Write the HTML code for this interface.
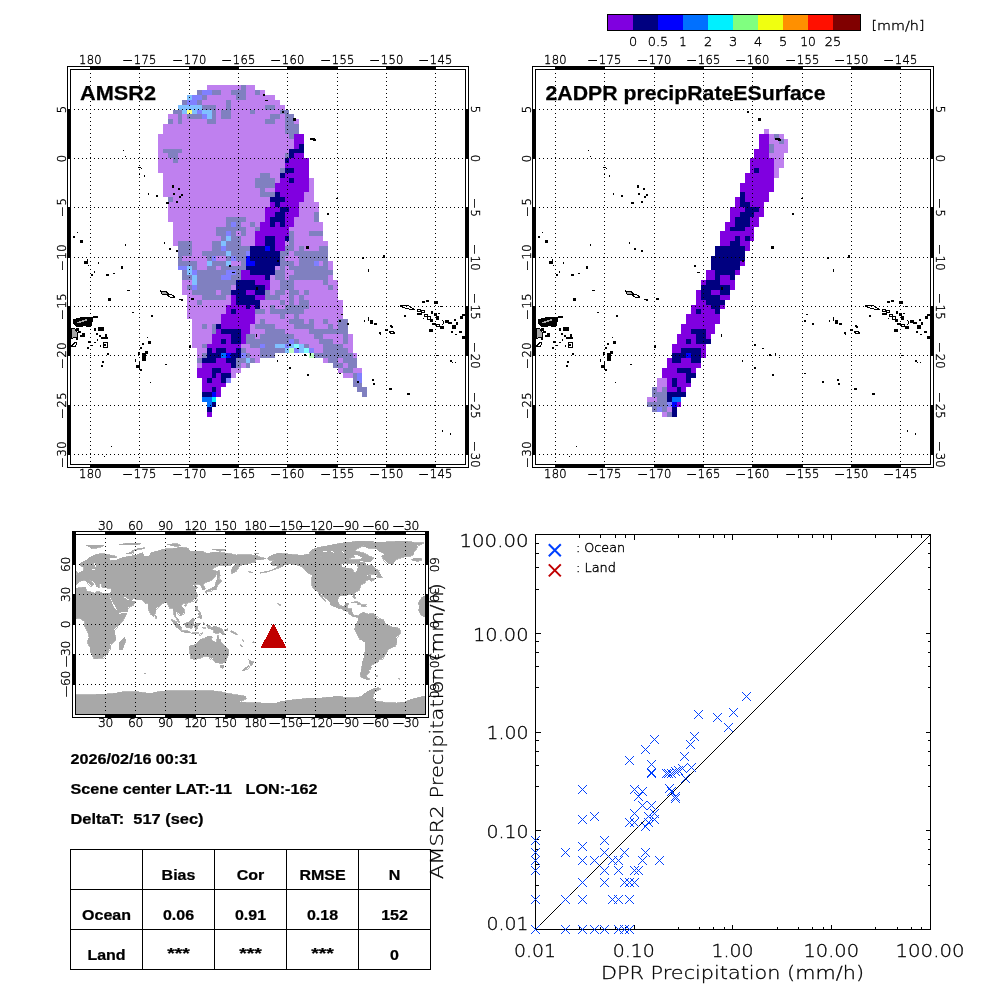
<!DOCTYPE html>
<html><head><meta charset="utf-8"><title>AMSR2 vs DPR precipitation</title>
<style>html,body{margin:0;padding:0;background:#fff}svg{display:block}text{fill:#000;white-space:pre}</style></head>
<body><svg width="1000" height="1000" viewBox="0 0 1000 1000">
<rect width="1000" height="1000" fill="#fff"/>
<g shape-rendering="crispEdges">
<rect x="607" y="14" width="254" height="17" fill="#000"/>
<rect x="608" y="15" width="25" height="15" fill="#8000e0"/>
<rect x="633" y="15" width="25" height="15" fill="#000080"/>
<rect x="658" y="15" width="25" height="15" fill="#0000ff"/>
<rect x="683" y="15" width="25" height="15" fill="#0070ff"/>
<rect x="708" y="15" width="25" height="15" fill="#00f0ff"/>
<rect x="733" y="15" width="25" height="15" fill="#80ff80"/>
<rect x="758" y="15" width="25" height="15" fill="#f0ff10"/>
<rect x="783" y="15" width="25" height="15" fill="#ff9000"/>
<rect x="808" y="15" width="25" height="15" fill="#ff1000"/>
<rect x="833" y="15" width="27" height="15" fill="#800000"/>
</g>
<text x="633" y="45.5" font-size="12.3" text-anchor="middle" font-family="DejaVu Sans Light, DejaVu Sans, Liberation Sans, sans-serif" font-weight="200" stroke="#000" stroke-width="0.35" textLength="8.2" lengthAdjust="spacingAndGlyphs">0</text>
<text x="658" y="45.5" font-size="12.3" text-anchor="middle" font-family="DejaVu Sans Light, DejaVu Sans, Liberation Sans, sans-serif" font-weight="200" stroke="#000" stroke-width="0.35" textLength="20.5" lengthAdjust="spacingAndGlyphs">0.5</text>
<text x="683" y="45.5" font-size="12.3" text-anchor="middle" font-family="DejaVu Sans Light, DejaVu Sans, Liberation Sans, sans-serif" font-weight="200" stroke="#000" stroke-width="0.35" textLength="7.4" lengthAdjust="spacingAndGlyphs">1</text>
<text x="708" y="45.5" font-size="12.3" text-anchor="middle" font-family="DejaVu Sans Light, DejaVu Sans, Liberation Sans, sans-serif" font-weight="200" stroke="#000" stroke-width="0.35" textLength="8.2" lengthAdjust="spacingAndGlyphs">2</text>
<text x="733" y="45.5" font-size="12.3" text-anchor="middle" font-family="DejaVu Sans Light, DejaVu Sans, Liberation Sans, sans-serif" font-weight="200" stroke="#000" stroke-width="0.35" textLength="8.2" lengthAdjust="spacingAndGlyphs">3</text>
<text x="758" y="45.5" font-size="12.3" text-anchor="middle" font-family="DejaVu Sans Light, DejaVu Sans, Liberation Sans, sans-serif" font-weight="200" stroke="#000" stroke-width="0.35" textLength="8.2" lengthAdjust="spacingAndGlyphs">4</text>
<text x="783" y="45.5" font-size="12.3" text-anchor="middle" font-family="DejaVu Sans Light, DejaVu Sans, Liberation Sans, sans-serif" font-weight="200" stroke="#000" stroke-width="0.35" textLength="8.2" lengthAdjust="spacingAndGlyphs">5</text>
<text x="808" y="45.5" font-size="12.3" text-anchor="middle" font-family="DejaVu Sans Light, DejaVu Sans, Liberation Sans, sans-serif" font-weight="200" stroke="#000" stroke-width="0.35" textLength="15.6" lengthAdjust="spacingAndGlyphs">10</text>
<text x="833" y="45.5" font-size="12.3" text-anchor="middle" font-family="DejaVu Sans Light, DejaVu Sans, Liberation Sans, sans-serif" font-weight="200" stroke="#000" stroke-width="0.35" textLength="16.4" lengthAdjust="spacingAndGlyphs">25</text>
<text x="871.5" y="29.5" font-size="13" text-anchor="start" font-family="DejaVu Sans Light, DejaVu Sans, Liberation Sans, sans-serif" font-weight="200" stroke="#000" stroke-width="0.35" textLength="53" lengthAdjust="spacingAndGlyphs">[mm/h]</text>
<g shape-rendering="crispEdges">
<rect x="67" y="66" width="402" height="402" fill="#000"/>
<rect x="68" y="67" width="400" height="400" fill="#fff"/>
<rect x="70" y="69" width="396" height="396" fill="#000"/>
<rect x="90" y="66" width="50" height="4" fill="#000"/>
<rect x="90" y="464" width="50" height="4" fill="#000"/>
<rect x="189" y="66" width="50" height="4" fill="#000"/>
<rect x="189" y="464" width="50" height="4" fill="#000"/>
<rect x="287" y="66" width="51" height="4" fill="#000"/>
<rect x="287" y="464" width="51" height="4" fill="#000"/>
<rect x="386" y="66" width="50" height="4" fill="#000"/>
<rect x="386" y="464" width="50" height="4" fill="#000"/>
<rect x="67" y="109" width="4" height="50" fill="#000"/>
<rect x="465" y="109" width="4" height="50" fill="#000"/>
<rect x="67" y="207" width="4" height="51" fill="#000"/>
<rect x="465" y="207" width="4" height="51" fill="#000"/>
<rect x="67" y="306" width="4" height="50" fill="#000"/>
<rect x="465" y="306" width="4" height="50" fill="#000"/>
<rect x="67" y="405" width="4" height="50" fill="#000"/>
<rect x="465" y="405" width="4" height="50" fill="#000"/>
<rect x="71" y="70" width="394" height="394" fill="#fff"/>
<rect x="207" y="85" width="34" height="5" fill="#bf80ef"/>
<rect x="241" y="85" width="5" height="5" fill="#8080c0"/>
<rect x="246" y="85" width="9" height="5" fill="#bf80ef"/>
<rect x="197" y="90" width="5" height="5" fill="#8080c0"/>
<rect x="202" y="90" width="10" height="5" fill="#8080ff"/>
<rect x="212" y="90" width="9" height="5" fill="#8080c0"/>
<rect x="221" y="90" width="10" height="5" fill="#bf80ef"/>
<rect x="231" y="90" width="15" height="5" fill="#8080c0"/>
<rect x="246" y="90" width="9" height="5" fill="#bf80ef"/>
<rect x="255" y="90" width="5" height="5" fill="#8080c0"/>
<rect x="260" y="90" width="5" height="5" fill="#bf80ef"/>
<rect x="187" y="95" width="5" height="5" fill="#80c0ff"/>
<rect x="192" y="95" width="10" height="5" fill="#8080ff"/>
<rect x="202" y="95" width="5" height="5" fill="#8080c0"/>
<rect x="207" y="95" width="29" height="5" fill="#bf80ef"/>
<rect x="236" y="95" width="10" height="5" fill="#8080c0"/>
<rect x="246" y="95" width="29" height="5" fill="#bf80ef"/>
<rect x="182" y="100" width="5" height="5" fill="#8080c0"/>
<rect x="187" y="100" width="10" height="5" fill="#8080ff"/>
<rect x="197" y="100" width="5" height="5" fill="#8080c0"/>
<rect x="202" y="100" width="24" height="5" fill="#bf80ef"/>
<rect x="226" y="100" width="5" height="5" fill="#8080c0"/>
<rect x="231" y="100" width="49" height="5" fill="#bf80ef"/>
<rect x="178" y="105" width="24" height="5" fill="#80c0ff"/>
<rect x="202" y="105" width="14" height="5" fill="#8080c0"/>
<rect x="216" y="105" width="10" height="5" fill="#bf80ef"/>
<rect x="226" y="105" width="5" height="5" fill="#8080c0"/>
<rect x="231" y="105" width="34" height="5" fill="#bf80ef"/>
<rect x="265" y="105" width="10" height="5" fill="#8080c0"/>
<rect x="275" y="105" width="10" height="5" fill="#bf80ef"/>
<rect x="173" y="110" width="9" height="4" fill="#8080c0"/>
<rect x="182" y="110" width="5" height="4" fill="#80c0ff"/>
<rect x="187" y="110" width="5" height="4" fill="#ffff80"/>
<rect x="192" y="110" width="5" height="4" fill="#80c0ff"/>
<rect x="197" y="110" width="5" height="4" fill="#8080ff"/>
<rect x="202" y="110" width="10" height="4" fill="#80c0ff"/>
<rect x="212" y="110" width="4" height="4" fill="#8080c0"/>
<rect x="216" y="110" width="5" height="4" fill="#bf80ef"/>
<rect x="221" y="110" width="10" height="4" fill="#8080c0"/>
<rect x="231" y="110" width="19" height="4" fill="#bf80ef"/>
<rect x="250" y="110" width="5" height="4" fill="#8080c0"/>
<rect x="255" y="110" width="25" height="4" fill="#bf80ef"/>
<rect x="280" y="110" width="9" height="4" fill="#8080c0"/>
<rect x="168" y="114" width="10" height="5" fill="#bf80ef"/>
<rect x="178" y="114" width="4" height="5" fill="#8080c0"/>
<rect x="182" y="114" width="5" height="5" fill="#bf80ef"/>
<rect x="187" y="114" width="15" height="5" fill="#8080c0"/>
<rect x="202" y="114" width="5" height="5" fill="#8080ff"/>
<rect x="207" y="114" width="5" height="5" fill="#80c0ff"/>
<rect x="212" y="114" width="4" height="5" fill="#8080c0"/>
<rect x="216" y="114" width="5" height="5" fill="#bf80ef"/>
<rect x="221" y="114" width="10" height="5" fill="#8080c0"/>
<rect x="231" y="114" width="39" height="5" fill="#bf80ef"/>
<rect x="270" y="114" width="10" height="5" fill="#8080c0"/>
<rect x="280" y="114" width="5" height="5" fill="#bf80ef"/>
<rect x="285" y="114" width="9" height="5" fill="#8080c0"/>
<rect x="168" y="119" width="5" height="5" fill="#8080c0"/>
<rect x="173" y="119" width="5" height="5" fill="#bf80ef"/>
<rect x="178" y="119" width="4" height="5" fill="#8080c0"/>
<rect x="182" y="119" width="25" height="5" fill="#bf80ef"/>
<rect x="207" y="119" width="9" height="5" fill="#8080c0"/>
<rect x="216" y="119" width="49" height="5" fill="#bf80ef"/>
<rect x="265" y="119" width="10" height="5" fill="#8080c0"/>
<rect x="275" y="119" width="10" height="5" fill="#bf80ef"/>
<rect x="285" y="119" width="9" height="5" fill="#8080c0"/>
<rect x="294" y="119" width="5" height="5" fill="#bf80ef"/>
<rect x="163" y="124" width="122" height="5" fill="#bf80ef"/>
<rect x="285" y="124" width="14" height="5" fill="#8080c0"/>
<rect x="163" y="129" width="122" height="5" fill="#bf80ef"/>
<rect x="285" y="129" width="14" height="5" fill="#8080c0"/>
<rect x="158" y="134" width="131" height="5" fill="#bf80ef"/>
<rect x="289" y="134" width="5" height="5" fill="#8080c0"/>
<rect x="294" y="134" width="10" height="5" fill="#8000e0"/>
<rect x="158" y="139" width="136" height="5" fill="#bf80ef"/>
<rect x="294" y="139" width="10" height="5" fill="#8000e0"/>
<rect x="158" y="144" width="136" height="5" fill="#bf80ef"/>
<rect x="294" y="144" width="5" height="5" fill="#8000e0"/>
<rect x="299" y="144" width="5" height="5" fill="#000080"/>
<rect x="158" y="149" width="5" height="4" fill="#bf80ef"/>
<rect x="163" y="149" width="19" height="4" fill="#8080c0"/>
<rect x="182" y="149" width="107" height="4" fill="#bf80ef"/>
<rect x="289" y="149" width="15" height="4" fill="#000080"/>
<rect x="158" y="153" width="10" height="5" fill="#bf80ef"/>
<rect x="168" y="153" width="10" height="5" fill="#8080c0"/>
<rect x="178" y="153" width="107" height="5" fill="#bf80ef"/>
<rect x="285" y="153" width="4" height="5" fill="#8080c0"/>
<rect x="289" y="153" width="5" height="5" fill="#000080"/>
<rect x="294" y="153" width="10" height="5" fill="#8000e0"/>
<rect x="158" y="158" width="15" height="5" fill="#bf80ef"/>
<rect x="173" y="158" width="5" height="5" fill="#8080c0"/>
<rect x="178" y="158" width="107" height="5" fill="#bf80ef"/>
<rect x="285" y="158" width="4" height="5" fill="#000080"/>
<rect x="289" y="158" width="20" height="5" fill="#8000e0"/>
<rect x="158" y="163" width="127" height="5" fill="#bf80ef"/>
<rect x="285" y="163" width="24" height="5" fill="#8000e0"/>
<rect x="158" y="168" width="122" height="5" fill="#bf80ef"/>
<rect x="280" y="168" width="5" height="5" fill="#8080c0"/>
<rect x="285" y="168" width="9" height="5" fill="#000080"/>
<rect x="294" y="168" width="15" height="5" fill="#8000e0"/>
<rect x="163" y="173" width="97" height="5" fill="#bf80ef"/>
<rect x="260" y="173" width="10" height="5" fill="#8080c0"/>
<rect x="270" y="173" width="10" height="5" fill="#bf80ef"/>
<rect x="280" y="173" width="5" height="5" fill="#000080"/>
<rect x="285" y="173" width="24" height="5" fill="#8000e0"/>
<rect x="163" y="178" width="92" height="5" fill="#bf80ef"/>
<rect x="255" y="178" width="20" height="5" fill="#8080c0"/>
<rect x="275" y="178" width="5" height="5" fill="#bf80ef"/>
<rect x="280" y="178" width="9" height="5" fill="#8000e0"/>
<rect x="289" y="178" width="5" height="5" fill="#000080"/>
<rect x="294" y="178" width="15" height="5" fill="#8000e0"/>
<rect x="309" y="178" width="5" height="5" fill="#bf80ef"/>
<rect x="163" y="183" width="92" height="5" fill="#bf80ef"/>
<rect x="255" y="183" width="20" height="5" fill="#8080c0"/>
<rect x="275" y="183" width="34" height="5" fill="#8000e0"/>
<rect x="309" y="183" width="5" height="5" fill="#bf80ef"/>
<rect x="163" y="188" width="97" height="4" fill="#bf80ef"/>
<rect x="260" y="188" width="5" height="4" fill="#8080c0"/>
<rect x="265" y="188" width="10" height="4" fill="#bf80ef"/>
<rect x="275" y="188" width="34" height="4" fill="#8000e0"/>
<rect x="309" y="188" width="5" height="4" fill="#bf80ef"/>
<rect x="163" y="192" width="97" height="5" fill="#bf80ef"/>
<rect x="260" y="192" width="15" height="5" fill="#8080c0"/>
<rect x="275" y="192" width="5" height="5" fill="#000080"/>
<rect x="280" y="192" width="24" height="5" fill="#8000e0"/>
<rect x="304" y="192" width="10" height="5" fill="#bf80ef"/>
<rect x="168" y="197" width="5" height="5" fill="#8080c0"/>
<rect x="173" y="197" width="97" height="5" fill="#bf80ef"/>
<rect x="270" y="197" width="15" height="5" fill="#000080"/>
<rect x="285" y="197" width="19" height="5" fill="#8000e0"/>
<rect x="304" y="197" width="10" height="5" fill="#bf80ef"/>
<rect x="168" y="202" width="102" height="5" fill="#bf80ef"/>
<rect x="270" y="202" width="5" height="5" fill="#8000e0"/>
<rect x="275" y="202" width="5" height="5" fill="#000080"/>
<rect x="280" y="202" width="19" height="5" fill="#8000e0"/>
<rect x="299" y="202" width="20" height="5" fill="#bf80ef"/>
<rect x="168" y="207" width="97" height="5" fill="#bf80ef"/>
<rect x="265" y="207" width="15" height="5" fill="#8000e0"/>
<rect x="280" y="207" width="9" height="5" fill="#000080"/>
<rect x="289" y="207" width="10" height="5" fill="#8000e0"/>
<rect x="299" y="207" width="20" height="5" fill="#bf80ef"/>
<rect x="168" y="212" width="97" height="5" fill="#bf80ef"/>
<rect x="265" y="212" width="10" height="5" fill="#8000e0"/>
<rect x="275" y="212" width="10" height="5" fill="#000080"/>
<rect x="285" y="212" width="14" height="5" fill="#8000e0"/>
<rect x="299" y="212" width="15" height="5" fill="#bf80ef"/>
<rect x="314" y="212" width="5" height="5" fill="#8080c0"/>
<rect x="168" y="217" width="58" height="5" fill="#bf80ef"/>
<rect x="226" y="217" width="20" height="5" fill="#8080c0"/>
<rect x="246" y="217" width="19" height="5" fill="#bf80ef"/>
<rect x="265" y="217" width="5" height="5" fill="#8000e0"/>
<rect x="270" y="217" width="15" height="5" fill="#000080"/>
<rect x="285" y="217" width="9" height="5" fill="#8000e0"/>
<rect x="294" y="217" width="20" height="5" fill="#bf80ef"/>
<rect x="314" y="217" width="5" height="5" fill="#8080c0"/>
<rect x="173" y="222" width="53" height="5" fill="#bf80ef"/>
<rect x="226" y="222" width="5" height="5" fill="#8080c0"/>
<rect x="231" y="222" width="5" height="5" fill="#8080ff"/>
<rect x="236" y="222" width="5" height="5" fill="#8080c0"/>
<rect x="241" y="222" width="9" height="5" fill="#bf80ef"/>
<rect x="250" y="222" width="5" height="5" fill="#8080c0"/>
<rect x="255" y="222" width="5" height="5" fill="#bf80ef"/>
<rect x="260" y="222" width="10" height="5" fill="#8000e0"/>
<rect x="270" y="222" width="5" height="5" fill="#000080"/>
<rect x="275" y="222" width="5" height="5" fill="#8000e0"/>
<rect x="280" y="222" width="5" height="5" fill="#000080"/>
<rect x="285" y="222" width="9" height="5" fill="#8000e0"/>
<rect x="294" y="222" width="29" height="5" fill="#bf80ef"/>
<rect x="173" y="227" width="43" height="4" fill="#bf80ef"/>
<rect x="216" y="227" width="30" height="4" fill="#8080c0"/>
<rect x="246" y="227" width="9" height="4" fill="#bf80ef"/>
<rect x="255" y="227" width="5" height="4" fill="#8080c0"/>
<rect x="260" y="227" width="29" height="4" fill="#8000e0"/>
<rect x="289" y="227" width="34" height="4" fill="#bf80ef"/>
<rect x="173" y="231" width="43" height="5" fill="#bf80ef"/>
<rect x="216" y="231" width="10" height="5" fill="#8080c0"/>
<rect x="226" y="231" width="5" height="5" fill="#8080ff"/>
<rect x="231" y="231" width="5" height="5" fill="#8080c0"/>
<rect x="236" y="231" width="5" height="5" fill="#bf80ef"/>
<rect x="241" y="231" width="5" height="5" fill="#8080c0"/>
<rect x="246" y="231" width="9" height="5" fill="#bf80ef"/>
<rect x="255" y="231" width="34" height="5" fill="#8000e0"/>
<rect x="289" y="231" width="5" height="5" fill="#8080c0"/>
<rect x="294" y="231" width="15" height="5" fill="#bf80ef"/>
<rect x="309" y="231" width="14" height="5" fill="#8080c0"/>
<rect x="173" y="236" width="48" height="5" fill="#bf80ef"/>
<rect x="221" y="236" width="5" height="5" fill="#8080c0"/>
<rect x="226" y="236" width="5" height="5" fill="#80c0ff"/>
<rect x="231" y="236" width="10" height="5" fill="#8080c0"/>
<rect x="241" y="236" width="14" height="5" fill="#bf80ef"/>
<rect x="255" y="236" width="10" height="5" fill="#8000e0"/>
<rect x="265" y="236" width="10" height="5" fill="#000080"/>
<rect x="275" y="236" width="10" height="5" fill="#8000e0"/>
<rect x="285" y="236" width="4" height="5" fill="#000080"/>
<rect x="289" y="236" width="5" height="5" fill="#8080c0"/>
<rect x="294" y="236" width="29" height="5" fill="#bf80ef"/>
<rect x="173" y="241" width="5" height="5" fill="#bf80ef"/>
<rect x="178" y="241" width="14" height="5" fill="#8080c0"/>
<rect x="192" y="241" width="20" height="5" fill="#bf80ef"/>
<rect x="212" y="241" width="9" height="5" fill="#8080c0"/>
<rect x="221" y="241" width="5" height="5" fill="#80c0ff"/>
<rect x="226" y="241" width="15" height="5" fill="#8080c0"/>
<rect x="241" y="241" width="14" height="5" fill="#bf80ef"/>
<rect x="255" y="241" width="10" height="5" fill="#8000e0"/>
<rect x="265" y="241" width="10" height="5" fill="#000080"/>
<rect x="275" y="241" width="10" height="5" fill="#8000e0"/>
<rect x="285" y="241" width="4" height="5" fill="#bf80ef"/>
<rect x="289" y="241" width="5" height="5" fill="#8080c0"/>
<rect x="294" y="241" width="34" height="5" fill="#bf80ef"/>
<rect x="178" y="246" width="14" height="5" fill="#8080c0"/>
<rect x="192" y="246" width="20" height="5" fill="#bf80ef"/>
<rect x="212" y="246" width="9" height="5" fill="#8080c0"/>
<rect x="221" y="246" width="5" height="5" fill="#8080ff"/>
<rect x="226" y="246" width="24" height="5" fill="#8080c0"/>
<rect x="250" y="246" width="15" height="5" fill="#000080"/>
<rect x="265" y="246" width="5" height="5" fill="#0000ff"/>
<rect x="270" y="246" width="5" height="5" fill="#000080"/>
<rect x="275" y="246" width="10" height="5" fill="#8000e0"/>
<rect x="285" y="246" width="9" height="5" fill="#8080c0"/>
<rect x="294" y="246" width="5" height="5" fill="#bf80ef"/>
<rect x="299" y="246" width="5" height="5" fill="#8080c0"/>
<rect x="304" y="246" width="15" height="5" fill="#bf80ef"/>
<rect x="319" y="246" width="9" height="5" fill="#8080c0"/>
<rect x="178" y="251" width="14" height="5" fill="#8080c0"/>
<rect x="192" y="251" width="10" height="5" fill="#bf80ef"/>
<rect x="202" y="251" width="24" height="5" fill="#8080c0"/>
<rect x="226" y="251" width="5" height="5" fill="#80c0ff"/>
<rect x="231" y="251" width="15" height="5" fill="#8080c0"/>
<rect x="246" y="251" width="4" height="5" fill="#8080ff"/>
<rect x="250" y="251" width="30" height="5" fill="#000080"/>
<rect x="280" y="251" width="9" height="5" fill="#8080c0"/>
<rect x="289" y="251" width="5" height="5" fill="#bf80ef"/>
<rect x="294" y="251" width="34" height="5" fill="#8080c0"/>
<rect x="178" y="256" width="4" height="5" fill="#8080c0"/>
<rect x="182" y="256" width="25" height="5" fill="#bf80ef"/>
<rect x="207" y="256" width="5" height="5" fill="#8080c0"/>
<rect x="212" y="256" width="4" height="5" fill="#8080ff"/>
<rect x="216" y="256" width="10" height="5" fill="#bf80ef"/>
<rect x="226" y="256" width="5" height="5" fill="#8080c0"/>
<rect x="231" y="256" width="5" height="5" fill="#8080ff"/>
<rect x="236" y="256" width="10" height="5" fill="#8080c0"/>
<rect x="246" y="256" width="4" height="5" fill="#0000ff"/>
<rect x="250" y="256" width="30" height="5" fill="#000080"/>
<rect x="280" y="256" width="5" height="5" fill="#8080c0"/>
<rect x="285" y="256" width="14" height="5" fill="#bf80ef"/>
<rect x="299" y="256" width="29" height="5" fill="#8080c0"/>
<rect x="178" y="261" width="19" height="5" fill="#8080c0"/>
<rect x="197" y="261" width="10" height="5" fill="#bf80ef"/>
<rect x="207" y="261" width="5" height="5" fill="#80c0ff"/>
<rect x="212" y="261" width="14" height="5" fill="#8080c0"/>
<rect x="226" y="261" width="5" height="5" fill="#80c0ff"/>
<rect x="231" y="261" width="10" height="5" fill="#bf80ef"/>
<rect x="241" y="261" width="5" height="5" fill="#8080c0"/>
<rect x="246" y="261" width="9" height="5" fill="#0000ff"/>
<rect x="255" y="261" width="25" height="5" fill="#000080"/>
<rect x="280" y="261" width="14" height="5" fill="#8080c0"/>
<rect x="294" y="261" width="5" height="5" fill="#bf80ef"/>
<rect x="299" y="261" width="15" height="5" fill="#8080c0"/>
<rect x="314" y="261" width="5" height="5" fill="#8080ff"/>
<rect x="319" y="261" width="4" height="5" fill="#bf80ef"/>
<rect x="323" y="261" width="5" height="5" fill="#8080c0"/>
<rect x="328" y="261" width="5" height="5" fill="#bf80ef"/>
<rect x="178" y="266" width="9" height="4" fill="#8080ff"/>
<rect x="187" y="266" width="5" height="4" fill="#80c0ff"/>
<rect x="192" y="266" width="5" height="4" fill="#8080c0"/>
<rect x="197" y="266" width="10" height="4" fill="#bf80ef"/>
<rect x="207" y="266" width="9" height="4" fill="#8080c0"/>
<rect x="216" y="266" width="5" height="4" fill="#bf80ef"/>
<rect x="221" y="266" width="25" height="4" fill="#8080c0"/>
<rect x="246" y="266" width="29" height="4" fill="#000080"/>
<rect x="275" y="266" width="5" height="4" fill="#bf80ef"/>
<rect x="280" y="266" width="5" height="4" fill="#8080c0"/>
<rect x="285" y="266" width="4" height="4" fill="#bf80ef"/>
<rect x="289" y="266" width="39" height="4" fill="#8080c0"/>
<rect x="328" y="266" width="5" height="4" fill="#bf80ef"/>
<rect x="182" y="270" width="5" height="5" fill="#8080c0"/>
<rect x="187" y="270" width="5" height="5" fill="#80c0ff"/>
<rect x="192" y="270" width="5" height="5" fill="#8080ff"/>
<rect x="197" y="270" width="29" height="5" fill="#8080c0"/>
<rect x="226" y="270" width="10" height="5" fill="#8080ff"/>
<rect x="236" y="270" width="5" height="5" fill="#8080c0"/>
<rect x="241" y="270" width="9" height="5" fill="#8000e0"/>
<rect x="250" y="270" width="25" height="5" fill="#000080"/>
<rect x="275" y="270" width="10" height="5" fill="#8080c0"/>
<rect x="285" y="270" width="9" height="5" fill="#bf80ef"/>
<rect x="294" y="270" width="39" height="5" fill="#8080c0"/>
<rect x="182" y="275" width="10" height="5" fill="#8080c0"/>
<rect x="192" y="275" width="5" height="5" fill="#80c0ff"/>
<rect x="197" y="275" width="24" height="5" fill="#8080c0"/>
<rect x="221" y="275" width="10" height="5" fill="#8080ff"/>
<rect x="231" y="275" width="10" height="5" fill="#8080c0"/>
<rect x="241" y="275" width="24" height="5" fill="#8000e0"/>
<rect x="265" y="275" width="5" height="5" fill="#000080"/>
<rect x="270" y="275" width="5" height="5" fill="#bf80ef"/>
<rect x="275" y="275" width="10" height="5" fill="#8080c0"/>
<rect x="285" y="275" width="4" height="5" fill="#bf80ef"/>
<rect x="289" y="275" width="39" height="5" fill="#8080c0"/>
<rect x="328" y="275" width="5" height="5" fill="#bf80ef"/>
<rect x="182" y="280" width="10" height="5" fill="#bf80ef"/>
<rect x="192" y="280" width="5" height="5" fill="#80c0ff"/>
<rect x="197" y="280" width="39" height="5" fill="#8080c0"/>
<rect x="236" y="280" width="19" height="5" fill="#000080"/>
<rect x="255" y="280" width="15" height="5" fill="#8000e0"/>
<rect x="270" y="280" width="10" height="5" fill="#bf80ef"/>
<rect x="280" y="280" width="14" height="5" fill="#8080c0"/>
<rect x="294" y="280" width="29" height="5" fill="#bf80ef"/>
<rect x="323" y="280" width="5" height="5" fill="#8080c0"/>
<rect x="328" y="280" width="10" height="5" fill="#bf80ef"/>
<rect x="182" y="285" width="5" height="5" fill="#bf80ef"/>
<rect x="187" y="285" width="5" height="5" fill="#8080c0"/>
<rect x="192" y="285" width="5" height="5" fill="#8080ff"/>
<rect x="197" y="285" width="34" height="5" fill="#8080c0"/>
<rect x="231" y="285" width="5" height="5" fill="#bf80ef"/>
<rect x="236" y="285" width="29" height="5" fill="#000080"/>
<rect x="265" y="285" width="5" height="5" fill="#8000e0"/>
<rect x="270" y="285" width="10" height="5" fill="#bf80ef"/>
<rect x="280" y="285" width="14" height="5" fill="#8080c0"/>
<rect x="294" y="285" width="34" height="5" fill="#bf80ef"/>
<rect x="328" y="285" width="5" height="5" fill="#8080c0"/>
<rect x="333" y="285" width="5" height="5" fill="#bf80ef"/>
<rect x="182" y="290" width="10" height="5" fill="#bf80ef"/>
<rect x="192" y="290" width="24" height="5" fill="#8080c0"/>
<rect x="216" y="290" width="5" height="5" fill="#bf80ef"/>
<rect x="221" y="290" width="10" height="5" fill="#8080c0"/>
<rect x="231" y="290" width="15" height="5" fill="#000080"/>
<rect x="246" y="290" width="9" height="5" fill="#8000e0"/>
<rect x="255" y="290" width="10" height="5" fill="#000080"/>
<rect x="265" y="290" width="5" height="5" fill="#8080c0"/>
<rect x="270" y="290" width="5" height="5" fill="#bf80ef"/>
<rect x="275" y="290" width="10" height="5" fill="#8080c0"/>
<rect x="285" y="290" width="4" height="5" fill="#bf80ef"/>
<rect x="289" y="290" width="10" height="5" fill="#8080c0"/>
<rect x="299" y="290" width="5" height="5" fill="#bf80ef"/>
<rect x="304" y="290" width="5" height="5" fill="#8080c0"/>
<rect x="309" y="290" width="29" height="5" fill="#bf80ef"/>
<rect x="187" y="295" width="15" height="5" fill="#bf80ef"/>
<rect x="202" y="295" width="24" height="5" fill="#8080c0"/>
<rect x="226" y="295" width="5" height="5" fill="#bf80ef"/>
<rect x="231" y="295" width="5" height="5" fill="#8000e0"/>
<rect x="236" y="295" width="19" height="5" fill="#000080"/>
<rect x="255" y="295" width="10" height="5" fill="#8000e0"/>
<rect x="265" y="295" width="15" height="5" fill="#8080c0"/>
<rect x="280" y="295" width="9" height="5" fill="#bf80ef"/>
<rect x="289" y="295" width="5" height="5" fill="#8080c0"/>
<rect x="294" y="295" width="5" height="5" fill="#bf80ef"/>
<rect x="299" y="295" width="5" height="5" fill="#8080c0"/>
<rect x="304" y="295" width="34" height="5" fill="#bf80ef"/>
<rect x="187" y="300" width="10" height="5" fill="#bf80ef"/>
<rect x="197" y="300" width="5" height="5" fill="#8080c0"/>
<rect x="202" y="300" width="29" height="5" fill="#bf80ef"/>
<rect x="231" y="300" width="5" height="5" fill="#8000e0"/>
<rect x="236" y="300" width="24" height="5" fill="#000080"/>
<rect x="260" y="300" width="20" height="5" fill="#bf80ef"/>
<rect x="280" y="300" width="5" height="5" fill="#8080c0"/>
<rect x="285" y="300" width="4" height="5" fill="#bf80ef"/>
<rect x="289" y="300" width="5" height="5" fill="#8080c0"/>
<rect x="294" y="300" width="5" height="5" fill="#bf80ef"/>
<rect x="299" y="300" width="10" height="5" fill="#8080c0"/>
<rect x="309" y="300" width="34" height="5" fill="#bf80ef"/>
<rect x="187" y="305" width="39" height="4" fill="#bf80ef"/>
<rect x="226" y="305" width="20" height="4" fill="#8000e0"/>
<rect x="246" y="305" width="4" height="4" fill="#000080"/>
<rect x="250" y="305" width="5" height="4" fill="#8000e0"/>
<rect x="255" y="305" width="5" height="4" fill="#000080"/>
<rect x="260" y="305" width="10" height="4" fill="#bf80ef"/>
<rect x="270" y="305" width="5" height="4" fill="#8080c0"/>
<rect x="275" y="305" width="10" height="4" fill="#bf80ef"/>
<rect x="285" y="305" width="24" height="4" fill="#8080c0"/>
<rect x="309" y="305" width="34" height="4" fill="#bf80ef"/>
<rect x="187" y="309" width="39" height="5" fill="#bf80ef"/>
<rect x="226" y="309" width="5" height="5" fill="#8000e0"/>
<rect x="231" y="309" width="5" height="5" fill="#000080"/>
<rect x="236" y="309" width="19" height="5" fill="#8000e0"/>
<rect x="255" y="309" width="10" height="5" fill="#8080c0"/>
<rect x="265" y="309" width="5" height="5" fill="#bf80ef"/>
<rect x="270" y="309" width="34" height="5" fill="#8080c0"/>
<rect x="304" y="309" width="39" height="5" fill="#bf80ef"/>
<rect x="187" y="314" width="34" height="5" fill="#bf80ef"/>
<rect x="221" y="314" width="34" height="5" fill="#8000e0"/>
<rect x="255" y="314" width="25" height="5" fill="#bf80ef"/>
<rect x="280" y="314" width="5" height="5" fill="#8080c0"/>
<rect x="285" y="314" width="9" height="5" fill="#bf80ef"/>
<rect x="294" y="314" width="5" height="5" fill="#8080c0"/>
<rect x="299" y="314" width="44" height="5" fill="#bf80ef"/>
<rect x="192" y="319" width="29" height="5" fill="#bf80ef"/>
<rect x="221" y="319" width="34" height="5" fill="#8000e0"/>
<rect x="255" y="319" width="5" height="5" fill="#bf80ef"/>
<rect x="260" y="319" width="5" height="5" fill="#8080c0"/>
<rect x="265" y="319" width="24" height="5" fill="#bf80ef"/>
<rect x="289" y="319" width="15" height="5" fill="#8080c0"/>
<rect x="304" y="319" width="5" height="5" fill="#bf80ef"/>
<rect x="309" y="319" width="5" height="5" fill="#8080c0"/>
<rect x="314" y="319" width="9" height="5" fill="#bf80ef"/>
<rect x="323" y="319" width="5" height="5" fill="#8080c0"/>
<rect x="328" y="319" width="10" height="5" fill="#bf80ef"/>
<rect x="338" y="319" width="10" height="5" fill="#8080c0"/>
<rect x="192" y="324" width="10" height="5" fill="#bf80ef"/>
<rect x="202" y="324" width="5" height="5" fill="#8080c0"/>
<rect x="207" y="324" width="5" height="5" fill="#bf80ef"/>
<rect x="212" y="324" width="4" height="5" fill="#8080c0"/>
<rect x="216" y="324" width="5" height="5" fill="#000080"/>
<rect x="221" y="324" width="29" height="5" fill="#8000e0"/>
<rect x="250" y="324" width="5" height="5" fill="#bf80ef"/>
<rect x="255" y="324" width="20" height="5" fill="#8080c0"/>
<rect x="275" y="324" width="19" height="5" fill="#bf80ef"/>
<rect x="294" y="324" width="20" height="5" fill="#8080c0"/>
<rect x="314" y="324" width="14" height="5" fill="#bf80ef"/>
<rect x="328" y="324" width="5" height="5" fill="#8080c0"/>
<rect x="333" y="324" width="5" height="5" fill="#bf80ef"/>
<rect x="338" y="324" width="10" height="5" fill="#8080c0"/>
<rect x="192" y="329" width="20" height="5" fill="#bf80ef"/>
<rect x="212" y="329" width="4" height="5" fill="#8080c0"/>
<rect x="216" y="329" width="5" height="5" fill="#8000e0"/>
<rect x="221" y="329" width="20" height="5" fill="#000080"/>
<rect x="241" y="329" width="9" height="5" fill="#8000e0"/>
<rect x="250" y="329" width="15" height="5" fill="#bf80ef"/>
<rect x="265" y="329" width="20" height="5" fill="#8080c0"/>
<rect x="285" y="329" width="24" height="5" fill="#bf80ef"/>
<rect x="309" y="329" width="39" height="5" fill="#8080c0"/>
<rect x="192" y="334" width="20" height="5" fill="#bf80ef"/>
<rect x="212" y="334" width="19" height="5" fill="#8000e0"/>
<rect x="231" y="334" width="10" height="5" fill="#000080"/>
<rect x="241" y="334" width="5" height="5" fill="#8000e0"/>
<rect x="246" y="334" width="9" height="5" fill="#8080c0"/>
<rect x="255" y="334" width="5" height="5" fill="#bf80ef"/>
<rect x="260" y="334" width="34" height="5" fill="#8080c0"/>
<rect x="294" y="334" width="20" height="5" fill="#bf80ef"/>
<rect x="314" y="334" width="9" height="5" fill="#8080c0"/>
<rect x="323" y="334" width="20" height="5" fill="#bf80ef"/>
<rect x="343" y="334" width="5" height="5" fill="#8080c0"/>
<rect x="348" y="334" width="5" height="5" fill="#bf80ef"/>
<rect x="192" y="339" width="20" height="5" fill="#bf80ef"/>
<rect x="212" y="339" width="9" height="5" fill="#8000e0"/>
<rect x="221" y="339" width="5" height="5" fill="#000080"/>
<rect x="226" y="339" width="5" height="5" fill="#8000e0"/>
<rect x="231" y="339" width="10" height="5" fill="#000080"/>
<rect x="241" y="339" width="5" height="5" fill="#8000e0"/>
<rect x="246" y="339" width="43" height="5" fill="#8080c0"/>
<rect x="289" y="339" width="5" height="5" fill="#8080ff"/>
<rect x="294" y="339" width="5" height="5" fill="#8080c0"/>
<rect x="299" y="339" width="20" height="5" fill="#bf80ef"/>
<rect x="319" y="339" width="14" height="5" fill="#8080c0"/>
<rect x="333" y="339" width="10" height="5" fill="#bf80ef"/>
<rect x="343" y="339" width="5" height="5" fill="#8080c0"/>
<rect x="348" y="339" width="5" height="5" fill="#bf80ef"/>
<rect x="192" y="344" width="10" height="4" fill="#bf80ef"/>
<rect x="202" y="344" width="5" height="4" fill="#8080c0"/>
<rect x="207" y="344" width="34" height="4" fill="#8000e0"/>
<rect x="241" y="344" width="9" height="4" fill="#bf80ef"/>
<rect x="250" y="344" width="10" height="4" fill="#8080c0"/>
<rect x="260" y="344" width="5" height="4" fill="#8080ff"/>
<rect x="265" y="344" width="10" height="4" fill="#8080c0"/>
<rect x="275" y="344" width="10" height="4" fill="#80c0ff"/>
<rect x="285" y="344" width="4" height="4" fill="#8080ff"/>
<rect x="289" y="344" width="5" height="4" fill="#80c0ff"/>
<rect x="294" y="344" width="5" height="4" fill="#80ffff"/>
<rect x="299" y="344" width="5" height="4" fill="#80c0ff"/>
<rect x="304" y="344" width="5" height="4" fill="#8080c0"/>
<rect x="309" y="344" width="14" height="4" fill="#bf80ef"/>
<rect x="323" y="344" width="20" height="4" fill="#8080c0"/>
<rect x="343" y="344" width="10" height="4" fill="#bf80ef"/>
<rect x="197" y="348" width="10" height="5" fill="#bf80ef"/>
<rect x="207" y="348" width="5" height="5" fill="#000080"/>
<rect x="212" y="348" width="4" height="5" fill="#8000e0"/>
<rect x="216" y="348" width="10" height="5" fill="#000080"/>
<rect x="226" y="348" width="10" height="5" fill="#8000e0"/>
<rect x="236" y="348" width="5" height="5" fill="#000080"/>
<rect x="241" y="348" width="5" height="5" fill="#8080c0"/>
<rect x="246" y="348" width="14" height="5" fill="#bf80ef"/>
<rect x="260" y="348" width="25" height="5" fill="#8080c0"/>
<rect x="285" y="348" width="4" height="5" fill="#80c0ff"/>
<rect x="289" y="348" width="5" height="5" fill="#c0ffc0"/>
<rect x="294" y="348" width="5" height="5" fill="#8080ff"/>
<rect x="299" y="348" width="5" height="5" fill="#80c0ff"/>
<rect x="304" y="348" width="5" height="5" fill="#80ffff"/>
<rect x="309" y="348" width="5" height="5" fill="#8080ff"/>
<rect x="314" y="348" width="9" height="5" fill="#bf80ef"/>
<rect x="323" y="348" width="25" height="5" fill="#8080c0"/>
<rect x="348" y="348" width="5" height="5" fill="#bf80ef"/>
<rect x="197" y="353" width="5" height="5" fill="#bf80ef"/>
<rect x="202" y="353" width="5" height="5" fill="#8080c0"/>
<rect x="207" y="353" width="14" height="5" fill="#000080"/>
<rect x="221" y="353" width="5" height="5" fill="#0070ff"/>
<rect x="226" y="353" width="5" height="5" fill="#0000ff"/>
<rect x="231" y="353" width="10" height="5" fill="#000080"/>
<rect x="241" y="353" width="5" height="5" fill="#8080ff"/>
<rect x="246" y="353" width="4" height="5" fill="#8080c0"/>
<rect x="250" y="353" width="10" height="5" fill="#bf80ef"/>
<rect x="260" y="353" width="15" height="5" fill="#8080c0"/>
<rect x="309" y="353" width="5" height="5" fill="#c0ffc0"/>
<rect x="314" y="353" width="39" height="5" fill="#8080c0"/>
<rect x="353" y="353" width="4" height="5" fill="#bf80ef"/>
<rect x="197" y="358" width="5" height="5" fill="#8080c0"/>
<rect x="202" y="358" width="14" height="5" fill="#000080"/>
<rect x="216" y="358" width="10" height="5" fill="#8000e0"/>
<rect x="226" y="358" width="10" height="5" fill="#000080"/>
<rect x="236" y="358" width="10" height="5" fill="#8080c0"/>
<rect x="246" y="358" width="4" height="5" fill="#80c0ff"/>
<rect x="250" y="358" width="5" height="5" fill="#8080c0"/>
<rect x="255" y="358" width="5" height="5" fill="#bf80ef"/>
<rect x="323" y="358" width="5" height="5" fill="#bf80ef"/>
<rect x="328" y="358" width="10" height="5" fill="#8080c0"/>
<rect x="338" y="358" width="5" height="5" fill="#bf80ef"/>
<rect x="343" y="358" width="14" height="5" fill="#8080c0"/>
<rect x="197" y="363" width="5" height="5" fill="#bf80ef"/>
<rect x="202" y="363" width="29" height="5" fill="#8000e0"/>
<rect x="231" y="363" width="5" height="5" fill="#000080"/>
<rect x="236" y="363" width="5" height="5" fill="#8080c0"/>
<rect x="241" y="363" width="5" height="5" fill="#bf80ef"/>
<rect x="246" y="363" width="4" height="5" fill="#8080c0"/>
<rect x="333" y="363" width="10" height="5" fill="#8080c0"/>
<rect x="343" y="363" width="5" height="5" fill="#bf80ef"/>
<rect x="348" y="363" width="9" height="5" fill="#8080c0"/>
<rect x="197" y="368" width="15" height="5" fill="#8000e0"/>
<rect x="212" y="368" width="9" height="5" fill="#000080"/>
<rect x="221" y="368" width="10" height="5" fill="#8000e0"/>
<rect x="231" y="368" width="10" height="5" fill="#bf80ef"/>
<rect x="338" y="368" width="5" height="5" fill="#bf80ef"/>
<rect x="343" y="368" width="10" height="5" fill="#8080c0"/>
<rect x="353" y="368" width="9" height="5" fill="#bf80ef"/>
<rect x="197" y="373" width="15" height="5" fill="#8000e0"/>
<rect x="212" y="373" width="4" height="5" fill="#000080"/>
<rect x="216" y="373" width="5" height="5" fill="#8000e0"/>
<rect x="221" y="373" width="10" height="5" fill="#000080"/>
<rect x="231" y="373" width="5" height="5" fill="#bf80ef"/>
<rect x="343" y="373" width="10" height="5" fill="#bf80ef"/>
<rect x="353" y="373" width="4" height="5" fill="#8080c0"/>
<rect x="357" y="373" width="5" height="5" fill="#8080ff"/>
<rect x="202" y="378" width="5" height="5" fill="#8000e0"/>
<rect x="207" y="378" width="5" height="5" fill="#000080"/>
<rect x="212" y="378" width="9" height="5" fill="#8000e0"/>
<rect x="221" y="378" width="5" height="5" fill="#000080"/>
<rect x="226" y="378" width="5" height="5" fill="#8080ff"/>
<rect x="353" y="378" width="4" height="5" fill="#8080c0"/>
<rect x="357" y="378" width="5" height="5" fill="#8080ff"/>
<rect x="202" y="383" width="24" height="4" fill="#8000e0"/>
<rect x="353" y="383" width="9" height="4" fill="#8080c0"/>
<rect x="202" y="387" width="10" height="5" fill="#8000e0"/>
<rect x="212" y="387" width="4" height="5" fill="#000080"/>
<rect x="216" y="387" width="5" height="5" fill="#8000e0"/>
<rect x="357" y="387" width="10" height="5" fill="#8080c0"/>
<rect x="202" y="392" width="10" height="5" fill="#000080"/>
<rect x="212" y="392" width="4" height="5" fill="#0000ff"/>
<rect x="216" y="392" width="5" height="5" fill="#8000e0"/>
<rect x="362" y="392" width="5" height="5" fill="#8080c0"/>
<rect x="202" y="397" width="10" height="5" fill="#0070ff"/>
<rect x="212" y="397" width="4" height="5" fill="#00f0ff"/>
<rect x="207" y="402" width="5" height="5" fill="#0070ff"/>
<rect x="212" y="402" width="4" height="5" fill="#000080"/>
<rect x="207" y="407" width="5" height="5" fill="#000080"/>
<rect x="207" y="412" width="5" height="5" fill="#8000e0"/>
<rect x="122.75" y="149.75" width="1" height="1" fill="#000"/>
<rect x="124.75" y="155.75" width="1" height="1" fill="#000"/>
<rect x="138.25" y="166.75" width="3" height="1" fill="#000"/>
<rect x="141.25" y="167.75" width="1" height="1" fill="#000"/>
<rect x="139.25" y="173.25" width="1" height="2" fill="#000"/>
<rect x="144.25" y="175.0" width="1" height="1.5" fill="#000"/>
<rect x="147.5" y="193.0" width="1.5" height="1.5" fill="#000"/>
<rect x="156.25" y="194.75" width="2" height="2" fill="#000"/>
<rect x="171.5" y="185.0" width="2.5" height="2.5" fill="#000"/>
<rect x="177.5" y="188.25" width="2.5" height="2" fill="#000"/>
<rect x="173.25" y="192.75" width="2" height="2" fill="#000"/>
<rect x="180.75" y="193.75" width="2" height="2" fill="#000"/>
<rect x="179.25" y="195.75" width="2" height="2" fill="#000"/>
<rect x="166.25" y="202.0" width="3" height="1.5" fill="#000"/>
<rect x="175.5" y="201.25" width="2.5" height="2" fill="#000"/>
<rect x="76.5" y="231.5" width="1.5" height="1.5" fill="#000"/>
<rect x="72.75" y="235.5" width="2" height="2.5" fill="#000"/>
<rect x="80.0" y="240.25" width="2.5" height="3" fill="#000"/>
<rect x="125.25" y="243.75" width="1" height="2" fill="#000"/>
<rect x="164.25" y="241.75" width="1" height="2" fill="#000"/>
<rect x="169.25" y="248.25" width="2" height="2" fill="#000"/>
<rect x="176.25" y="249.75" width="2" height="2" fill="#000"/>
<rect x="84.25" y="260.75" width="4" height="3" fill="#000"/>
<rect x="87.25" y="258.75" width="1" height="5" fill="#000"/>
<rect x="88.25" y="265.25" width="1" height="1" fill="#000"/>
<rect x="97.75" y="262.25" width="1" height="2" fill="#000"/>
<rect x="120.5" y="266.0" width="2.5" height="2.5" fill="#000"/>
<rect x="93.75" y="271.0" width="1" height="1.5" fill="#000"/>
<rect x="90.75" y="274.0" width="2" height="1.5" fill="#000"/>
<rect x="105.75" y="273.75" width="3" height="2" fill="#000"/>
<rect x="112.75" y="273.25" width="2" height="1" fill="#000"/>
<rect x="262.75" y="93.75" width="2" height="2" fill="#000"/>
<rect x="264.75" y="99.75" width="3" height="1" fill="#000"/>
<rect x="282.25" y="110.75" width="2" height="2" fill="#000"/>
<rect x="293.0" y="118.25" width="2.5" height="3" fill="#000"/>
<rect x="310.0" y="137.75" width="4.5" height="2" fill="#000"/>
<rect x="312.75" y="139.25" width="3" height="2" fill="#000"/>
<rect x="335.75" y="197.75" width="2" height="1" fill="#000"/>
<rect x="326.75" y="212.75" width="2" height="2" fill="#000"/>
<rect x="305.75" y="246.0" width="3" height="2.5" fill="#000"/>
<rect x="361.75" y="256.75" width="2" height="2" fill="#000"/>
<rect x="382.5" y="255.0" width="2.5" height="2.5" fill="#000"/>
<rect x="368.25" y="269.0" width="1" height="2.5" fill="#000"/>
<rect x="340.75" y="313.75" width="2" height="1" fill="#000"/>
<rect x="338.75" y="319.75" width="2" height="2" fill="#000"/>
<rect x="347.0" y="322.75" width="1.5" height="2" fill="#000"/>
<rect x="363.5" y="320.0" width="1.5" height="1.5" fill="#000"/>
<rect x="367.5" y="317.0" width="1.5" height="3.5" fill="#000"/>
<rect x="369.75" y="319.75" width="3" height="4" fill="#000"/>
<rect x="374.25" y="322.75" width="3" height="2" fill="#000"/>
<rect x="389.75" y="324.75" width="2" height="2" fill="#000"/>
<rect x="378.75" y="331.75" width="2" height="2" fill="#000"/>
<rect x="384.75" y="329.25" width="3" height="2" fill="#000"/>
<polygon points="389.5,331.5 393.5,331.5 394.5,333.5 390.5,333.5" fill="#fff" stroke="#000" stroke-width="1"/>
<rect x="391.75" y="332.5" width="3" height="1.5" fill="#000"/>
<polygon points="160.5,291 166,291.5 168.5,293.5 165,295 162,294" fill="#a8a8a8" stroke="#000" stroke-width="1"/>
<polygon points="167.5,294.5 172,295 175,297 172,297.5 168.5,296.5" fill="#fff" stroke="#000" stroke-width="1"/>
<rect x="179.25" y="298.75" width="4" height="1" fill="#000"/>
<rect x="181.25" y="299.75" width="2" height="1" fill="#000"/>
<rect x="191.25" y="297.75" width="3" height="2" fill="#000"/>
<rect x="228.75" y="264.75" width="2" height="2" fill="#000"/>
<rect x="232.0" y="271.75" width="2.5" height="1" fill="#000"/>
<rect x="150.75" y="314.75" width="2" height="2" fill="#000"/>
<rect x="149.5" y="340.75" width="1.5" height="2" fill="#000"/>
<rect x="188.5" y="345.0" width="2.5" height="2.5" fill="#000"/>
<rect x="276.75" y="259.75" width="2" height="2" fill="#000"/>
<rect x="255.75" y="287.25" width="2" height="3" fill="#000"/>
<rect x="255.75" y="333.75" width="1" height="3" fill="#000"/>
<rect x="288.75" y="343.75" width="2" height="2" fill="#000"/>
<rect x="296.75" y="348.25" width="2" height="1" fill="#000"/>
<rect x="304.25" y="353.75" width="2" height="2" fill="#000"/>
<rect x="309.5" y="353.0" width="1.5" height="1.5" fill="#000"/>
<rect x="313.5" y="356.5" width="1.5" height="1.5" fill="#000"/>
<rect x="276.5" y="359.5" width="1.5" height="2.5" fill="#000"/>
<rect x="288.75" y="366.75" width="2" height="2" fill="#000"/>
<rect x="306.75" y="373.75" width="2" height="2" fill="#000"/>
<rect x="164.5" y="363.75" width="2.5" height="1" fill="#000"/>
<rect x="149.75" y="381.75" width="1" height="1" fill="#000"/>
<rect x="338.75" y="373.25" width="2" height="1" fill="#000"/>
<rect x="356.75" y="380.75" width="2" height="2" fill="#000"/>
<rect x="371.75" y="378.75" width="2" height="2" fill="#000"/>
<rect x="372.75" y="383.0" width="2" height="1.5" fill="#000"/>
<rect x="389.25" y="388.0" width="3" height="1.5" fill="#000"/>
<rect x="407.25" y="393.0" width="3" height="1.5" fill="#000"/>
<rect x="441.5" y="429.5" width="1.5" height="2.5" fill="#000"/>
<rect x="449.5" y="432.5" width="1.5" height="2.5" fill="#000"/>
<rect x="110.75" y="445.75" width="1" height="1" fill="#000"/>
<rect x="103.75" y="455.75" width="1" height="1" fill="#000"/>
<polygon points="73,320 80,318 86,317 92,317 92,322 91,326 88,327 85,325 80,327 76,326 74,324" fill="#000" stroke="#000" stroke-width="1"/>
<polyline points="77.5,323 87,319.5" fill="none" stroke="#a8a8a8" stroke-width="1.6"/>
<rect x="93" y="316" width="5" height="2" fill="#000"/>
<polygon points="71,328.5 75,329 78,333 77,337 71,338.5" fill="#a8a8a8" stroke="#000" stroke-width="1"/>
<rect x="76" y="328" width="3" height="3" fill="#000"/>
<rect x="78" y="331" width="3" height="2" fill="#000"/>
<rect x="82" y="333" width="3" height="4" fill="#000"/>
<rect x="80" y="335" width="2" height="2" fill="#000"/>
<rect x="76" y="337" width="2" height="3" fill="#000"/>
<polygon points="71,346.5 75.5,346.5 76.5,343 75,342.5" fill="#fff" stroke="#000" stroke-width="1"/>
<rect x="94" y="328" width="2" height="3" fill="#000"/>
<rect x="98" y="326.5" width="6" height="4" fill="#000"/>
<rect x="96" y="333" width="2" height="2" fill="#000"/>
<rect x="99" y="335" width="2" height="2" fill="#000"/>
<rect x="101" y="337" width="7" height="2" fill="#000"/>
<rect x="105" y="334" width="2" height="3" fill="#000"/>
<polygon points="103.5,342.5 107.5,342.5 107.5,347.5 103.5,347.5" fill="#fff" stroke="#000" stroke-width="1"/>
<rect x="104" y="344" width="2" height="2" fill="#000"/>
<rect x="88" y="341" width="3" height="2" fill="#000"/>
<rect x="94" y="342" width="2" height="1" fill="#000"/>
<rect x="90" y="345" width="3" height="1" fill="#000"/>
<rect x="87" y="347" width="2" height="2" fill="#000"/>
<rect x="100" y="345" width="1" height="2" fill="#000"/>
<rect x="97" y="339" width="1" height="2" fill="#000"/>
<rect x="107" y="353" width="2" height="2" fill="#000"/>
<rect x="102" y="361" width="2" height="2" fill="#000"/>
<rect x="101" y="365" width="2" height="2" fill="#000"/>
<rect x="108" y="298" width="3" height="3" fill="#000"/>
<rect x="127" y="290" width="3" height="1" fill="#000"/>
<rect x="132" y="312" width="2" height="1" fill="#000"/>
<rect x="151" y="315" width="2" height="2" fill="#000"/>
<rect x="147" y="337" width="1" height="1" fill="#000"/>
<rect x="148" y="341" width="3" height="3" fill="#000"/>
<rect x="142" y="343" width="2" height="2" fill="#000"/>
<rect x="140" y="347" width="2" height="2" fill="#000"/>
<rect x="142" y="353" width="4" height="8" fill="#000"/>
<rect x="145" y="351" width="3" height="3" fill="#000"/>
<rect x="138" y="352" width="2" height="3" fill="#000"/>
<rect x="135" y="359" width="1" height="3" fill="#000"/>
<rect x="136" y="365" width="3" height="3" fill="#000"/>
<rect x="139" y="362" width="1" height="8" fill="#000"/>
<rect x="140" y="369" width="2" height="2" fill="#000"/>
<rect x="165" y="364" width="1" height="1" fill="#000"/>
<rect x="400" y="305" width="2" height="2" fill="#000"/>
<polygon points="402.5,305.5 408,305.5 414.5,309.5 409,309 403,307.5" fill="#fff" stroke="#000" stroke-width="1"/>
<rect x="404" y="315" width="2" height="2" fill="#000"/>
<rect x="421.5" y="301" width="3" height="2" fill="#000"/>
<rect x="425.5" y="300" width="3" height="2" fill="#000"/>
<rect x="434" y="301" width="4" height="3" fill="#000"/>
<rect x="439.5" y="305.5" width="2" height="1.5" fill="#000"/>
<polygon points="417.5,309 420.5,309 420.5,311.5 417.5,311.5" fill="#fff" stroke="#000" stroke-width="1"/>
<polygon points="421.5,310 424.5,310 424.5,312.5 421.5,312.5" fill="#fff" stroke="#000" stroke-width="1"/>
<rect x="417" y="312.5" width="4.5" height="2.5" fill="#000"/>
<polygon points="424.5,314.5 427,314.5 427,316.5 424.5,316.5" fill="#fff" stroke="#000" stroke-width="1"/>
<polygon points="427.5,316.5 430,316.5 430,319 427.5,319" fill="#fff" stroke="#000" stroke-width="1"/>
<rect x="429.5" y="318.5" width="3" height="3" fill="#000"/>
<rect x="431" y="311" width="2" height="2.5" fill="#000"/>
<rect x="433.5" y="313" width="3" height="3" fill="#000"/>
<rect x="435.5" y="316" width="3" height="3.5" fill="#000"/>
<rect x="438" y="313" width="2" height="1" fill="#000"/>
<rect x="422.5" y="318" width="1" height="1" fill="#000"/>
<rect x="432" y="323" width="4" height="1.5" fill="#000"/>
<polygon points="436.5,324 439.5,324 440,326.5 436.5,326.5" fill="#fff" stroke="#000" stroke-width="1"/>
<rect x="440" y="325.5" width="3.5" height="3" fill="#000"/>
<rect x="441.5" y="319.5" width="1" height="1" fill="#000"/>
<rect x="442.5" y="320.5" width="1" height="3" fill="#000"/>
<rect x="441.5" y="323.5" width="1" height="1" fill="#000"/>
<rect x="445" y="320" width="4" height="2.5" fill="#000"/>
<rect x="448" y="322" width="4" height="2" fill="#000"/>
<rect x="453.5" y="318.5" width="2.5" height="2.5" fill="#000"/>
<rect x="456" y="322" width="2" height="2.5" fill="#000"/>
<rect x="452" y="325" width="4" height="3.5" fill="#000"/>
<rect x="451" y="330.5" width="2" height="2" fill="#000"/>
<rect x="459" y="330.5" width="2.5" height="2.5" fill="#000"/>
<rect x="455" y="334" width="2" height="1" fill="#000"/>
<rect x="461.5" y="335.5" width="3" height="3.5" fill="#000"/>
<rect x="460" y="316" width="2.5" height="2.5" fill="#000"/>
<rect x="462" y="314" width="2.5" height="2" fill="#000"/>
<rect x="429" y="329" width="3.5" height="2.5" fill="#000"/>
<rect x="391" y="325.5" width="2" height="2" fill="#000"/>
<rect x="380" y="333" width="1" height="1.5" fill="#000"/>
<rect x="436" y="354.5" width="2" height="1.5" fill="#000"/>
<rect x="450" y="359.5" width="2" height="2" fill="#000"/>
<rect x="452" y="361.5" width="1" height="1" fill="#000"/>
<rect x="454.5" y="362" width="1.5" height="1" fill="#000"/>
<line x1="90.5" y1="73" x2="90.5" y2="464" stroke="#000" stroke-width="1" stroke-dasharray="1 3"/>
<line x1="139.5" y1="73" x2="139.5" y2="464" stroke="#000" stroke-width="1" stroke-dasharray="1 3"/>
<line x1="189.5" y1="73" x2="189.5" y2="464" stroke="#000" stroke-width="1" stroke-dasharray="1 3"/>
<line x1="238.5" y1="73" x2="238.5" y2="464" stroke="#000" stroke-width="1" stroke-dasharray="1 3"/>
<line x1="287.5" y1="73" x2="287.5" y2="464" stroke="#000" stroke-width="1" stroke-dasharray="1 3"/>
<line x1="337.5" y1="73" x2="337.5" y2="464" stroke="#000" stroke-width="1" stroke-dasharray="1 3"/>
<line x1="386.5" y1="73" x2="386.5" y2="464" stroke="#000" stroke-width="1" stroke-dasharray="1 3"/>
<line x1="435.5" y1="73" x2="435.5" y2="464" stroke="#000" stroke-width="1" stroke-dasharray="1 3"/>
<line x1="74" y1="109.5" x2="465" y2="109.5" stroke="#000" stroke-width="1" stroke-dasharray="1 3"/>
<line x1="74" y1="158.5" x2="465" y2="158.5" stroke="#000" stroke-width="1" stroke-dasharray="1 3"/>
<line x1="74" y1="207.5" x2="465" y2="207.5" stroke="#000" stroke-width="1" stroke-dasharray="1 3"/>
<line x1="74" y1="257.5" x2="465" y2="257.5" stroke="#000" stroke-width="1" stroke-dasharray="1 3"/>
<line x1="74" y1="306.5" x2="465" y2="306.5" stroke="#000" stroke-width="1" stroke-dasharray="1 3"/>
<line x1="74" y1="355.5" x2="465" y2="355.5" stroke="#000" stroke-width="1" stroke-dasharray="1 3"/>
<line x1="74" y1="405.5" x2="465" y2="405.5" stroke="#000" stroke-width="1" stroke-dasharray="1 3"/>
<line x1="74" y1="454.5" x2="465" y2="454.5" stroke="#000" stroke-width="1" stroke-dasharray="1 3"/>
</g>
<text x="90.5" y="64.3" font-size="11.5" text-anchor="middle" font-family="DejaVu Sans Light, DejaVu Sans, Liberation Sans, sans-serif" font-weight="200" stroke="#000" stroke-width="0.35" letter-spacing="0.3">180</text>
<text x="90.5" y="477.6" font-size="11.5" text-anchor="middle" font-family="DejaVu Sans Light, DejaVu Sans, Liberation Sans, sans-serif" font-weight="200" stroke="#000" stroke-width="0.35" letter-spacing="0.3">180</text>
<text x="139.5" y="64.3" font-size="11.5" text-anchor="middle" font-family="DejaVu Sans Light, DejaVu Sans, Liberation Sans, sans-serif" font-weight="200" stroke="#000" stroke-width="0.35" letter-spacing="0.3"><tspan textLength="11.5" lengthAdjust="spacingAndGlyphs">-</tspan>175</text>
<text x="139.5" y="477.6" font-size="11.5" text-anchor="middle" font-family="DejaVu Sans Light, DejaVu Sans, Liberation Sans, sans-serif" font-weight="200" stroke="#000" stroke-width="0.35" letter-spacing="0.3"><tspan textLength="11.5" lengthAdjust="spacingAndGlyphs">-</tspan>175</text>
<text x="189.5" y="64.3" font-size="11.5" text-anchor="middle" font-family="DejaVu Sans Light, DejaVu Sans, Liberation Sans, sans-serif" font-weight="200" stroke="#000" stroke-width="0.35" letter-spacing="0.3"><tspan textLength="11.5" lengthAdjust="spacingAndGlyphs">-</tspan>170</text>
<text x="189.5" y="477.6" font-size="11.5" text-anchor="middle" font-family="DejaVu Sans Light, DejaVu Sans, Liberation Sans, sans-serif" font-weight="200" stroke="#000" stroke-width="0.35" letter-spacing="0.3"><tspan textLength="11.5" lengthAdjust="spacingAndGlyphs">-</tspan>170</text>
<text x="238.5" y="64.3" font-size="11.5" text-anchor="middle" font-family="DejaVu Sans Light, DejaVu Sans, Liberation Sans, sans-serif" font-weight="200" stroke="#000" stroke-width="0.35" letter-spacing="0.3"><tspan textLength="11.5" lengthAdjust="spacingAndGlyphs">-</tspan>165</text>
<text x="238.5" y="477.6" font-size="11.5" text-anchor="middle" font-family="DejaVu Sans Light, DejaVu Sans, Liberation Sans, sans-serif" font-weight="200" stroke="#000" stroke-width="0.35" letter-spacing="0.3"><tspan textLength="11.5" lengthAdjust="spacingAndGlyphs">-</tspan>165</text>
<text x="287.5" y="64.3" font-size="11.5" text-anchor="middle" font-family="DejaVu Sans Light, DejaVu Sans, Liberation Sans, sans-serif" font-weight="200" stroke="#000" stroke-width="0.35" letter-spacing="0.3"><tspan textLength="11.5" lengthAdjust="spacingAndGlyphs">-</tspan>160</text>
<text x="287.5" y="477.6" font-size="11.5" text-anchor="middle" font-family="DejaVu Sans Light, DejaVu Sans, Liberation Sans, sans-serif" font-weight="200" stroke="#000" stroke-width="0.35" letter-spacing="0.3"><tspan textLength="11.5" lengthAdjust="spacingAndGlyphs">-</tspan>160</text>
<text x="337.5" y="64.3" font-size="11.5" text-anchor="middle" font-family="DejaVu Sans Light, DejaVu Sans, Liberation Sans, sans-serif" font-weight="200" stroke="#000" stroke-width="0.35" letter-spacing="0.3"><tspan textLength="11.5" lengthAdjust="spacingAndGlyphs">-</tspan>155</text>
<text x="337.5" y="477.6" font-size="11.5" text-anchor="middle" font-family="DejaVu Sans Light, DejaVu Sans, Liberation Sans, sans-serif" font-weight="200" stroke="#000" stroke-width="0.35" letter-spacing="0.3"><tspan textLength="11.5" lengthAdjust="spacingAndGlyphs">-</tspan>155</text>
<text x="386.5" y="64.3" font-size="11.5" text-anchor="middle" font-family="DejaVu Sans Light, DejaVu Sans, Liberation Sans, sans-serif" font-weight="200" stroke="#000" stroke-width="0.35" letter-spacing="0.3"><tspan textLength="11.5" lengthAdjust="spacingAndGlyphs">-</tspan>150</text>
<text x="386.5" y="477.6" font-size="11.5" text-anchor="middle" font-family="DejaVu Sans Light, DejaVu Sans, Liberation Sans, sans-serif" font-weight="200" stroke="#000" stroke-width="0.35" letter-spacing="0.3"><tspan textLength="11.5" lengthAdjust="spacingAndGlyphs">-</tspan>150</text>
<text x="435.5" y="64.3" font-size="11.5" text-anchor="middle" font-family="DejaVu Sans Light, DejaVu Sans, Liberation Sans, sans-serif" font-weight="200" stroke="#000" stroke-width="0.35" letter-spacing="0.3"><tspan textLength="11.5" lengthAdjust="spacingAndGlyphs">-</tspan>145</text>
<text x="435.5" y="477.6" font-size="11.5" text-anchor="middle" font-family="DejaVu Sans Light, DejaVu Sans, Liberation Sans, sans-serif" font-weight="200" stroke="#000" stroke-width="0.35" letter-spacing="0.3"><tspan textLength="11.5" lengthAdjust="spacingAndGlyphs">-</tspan>145</text>
<text x="65.5" y="109.5" font-size="11.5" text-anchor="middle" font-family="DejaVu Sans Light, DejaVu Sans, Liberation Sans, sans-serif" font-weight="200" stroke="#000" stroke-width="0.35" transform="rotate(-90 65.5 109.5)" letter-spacing="0.3">5</text>
<text x="470.5" y="109.5" font-size="11.5" text-anchor="middle" font-family="DejaVu Sans Light, DejaVu Sans, Liberation Sans, sans-serif" font-weight="200" stroke="#000" stroke-width="0.35" transform="rotate(90 470.5 109.5)" letter-spacing="0.3">5</text>
<text x="65.5" y="158.5" font-size="11.5" text-anchor="middle" font-family="DejaVu Sans Light, DejaVu Sans, Liberation Sans, sans-serif" font-weight="200" stroke="#000" stroke-width="0.35" transform="rotate(-90 65.5 158.5)" letter-spacing="0.3">0</text>
<text x="470.5" y="158.5" font-size="11.5" text-anchor="middle" font-family="DejaVu Sans Light, DejaVu Sans, Liberation Sans, sans-serif" font-weight="200" stroke="#000" stroke-width="0.35" transform="rotate(90 470.5 158.5)" letter-spacing="0.3">0</text>
<text x="65.5" y="207.5" font-size="11.5" text-anchor="middle" font-family="DejaVu Sans Light, DejaVu Sans, Liberation Sans, sans-serif" font-weight="200" stroke="#000" stroke-width="0.35" transform="rotate(-90 65.5 207.5)" letter-spacing="0.3"><tspan textLength="11.5" lengthAdjust="spacingAndGlyphs">-</tspan>5</text>
<text x="470.5" y="207.5" font-size="11.5" text-anchor="middle" font-family="DejaVu Sans Light, DejaVu Sans, Liberation Sans, sans-serif" font-weight="200" stroke="#000" stroke-width="0.35" transform="rotate(90 470.5 207.5)" letter-spacing="0.3"><tspan textLength="11.5" lengthAdjust="spacingAndGlyphs">-</tspan>5</text>
<text x="65.5" y="257.5" font-size="11.5" text-anchor="middle" font-family="DejaVu Sans Light, DejaVu Sans, Liberation Sans, sans-serif" font-weight="200" stroke="#000" stroke-width="0.35" transform="rotate(-90 65.5 257.5)" letter-spacing="0.3"><tspan textLength="11.5" lengthAdjust="spacingAndGlyphs">-</tspan>10</text>
<text x="470.5" y="257.5" font-size="11.5" text-anchor="middle" font-family="DejaVu Sans Light, DejaVu Sans, Liberation Sans, sans-serif" font-weight="200" stroke="#000" stroke-width="0.35" transform="rotate(90 470.5 257.5)" letter-spacing="0.3"><tspan textLength="11.5" lengthAdjust="spacingAndGlyphs">-</tspan>10</text>
<text x="65.5" y="306.5" font-size="11.5" text-anchor="middle" font-family="DejaVu Sans Light, DejaVu Sans, Liberation Sans, sans-serif" font-weight="200" stroke="#000" stroke-width="0.35" transform="rotate(-90 65.5 306.5)" letter-spacing="0.3"><tspan textLength="11.5" lengthAdjust="spacingAndGlyphs">-</tspan>15</text>
<text x="470.5" y="306.5" font-size="11.5" text-anchor="middle" font-family="DejaVu Sans Light, DejaVu Sans, Liberation Sans, sans-serif" font-weight="200" stroke="#000" stroke-width="0.35" transform="rotate(90 470.5 306.5)" letter-spacing="0.3"><tspan textLength="11.5" lengthAdjust="spacingAndGlyphs">-</tspan>15</text>
<text x="65.5" y="355.5" font-size="11.5" text-anchor="middle" font-family="DejaVu Sans Light, DejaVu Sans, Liberation Sans, sans-serif" font-weight="200" stroke="#000" stroke-width="0.35" transform="rotate(-90 65.5 355.5)" letter-spacing="0.3"><tspan textLength="11.5" lengthAdjust="spacingAndGlyphs">-</tspan>20</text>
<text x="470.5" y="355.5" font-size="11.5" text-anchor="middle" font-family="DejaVu Sans Light, DejaVu Sans, Liberation Sans, sans-serif" font-weight="200" stroke="#000" stroke-width="0.35" transform="rotate(90 470.5 355.5)" letter-spacing="0.3"><tspan textLength="11.5" lengthAdjust="spacingAndGlyphs">-</tspan>20</text>
<text x="65.5" y="405.5" font-size="11.5" text-anchor="middle" font-family="DejaVu Sans Light, DejaVu Sans, Liberation Sans, sans-serif" font-weight="200" stroke="#000" stroke-width="0.35" transform="rotate(-90 65.5 405.5)" letter-spacing="0.3"><tspan textLength="11.5" lengthAdjust="spacingAndGlyphs">-</tspan>25</text>
<text x="470.5" y="405.5" font-size="11.5" text-anchor="middle" font-family="DejaVu Sans Light, DejaVu Sans, Liberation Sans, sans-serif" font-weight="200" stroke="#000" stroke-width="0.35" transform="rotate(90 470.5 405.5)" letter-spacing="0.3"><tspan textLength="11.5" lengthAdjust="spacingAndGlyphs">-</tspan>25</text>
<text x="65.5" y="454.5" font-size="11.5" text-anchor="middle" font-family="DejaVu Sans Light, DejaVu Sans, Liberation Sans, sans-serif" font-weight="200" stroke="#000" stroke-width="0.35" transform="rotate(-90 65.5 454.5)" letter-spacing="0.3"><tspan textLength="11.5" lengthAdjust="spacingAndGlyphs">-</tspan>30</text>
<text x="470.5" y="454.5" font-size="11.5" text-anchor="middle" font-family="DejaVu Sans Light, DejaVu Sans, Liberation Sans, sans-serif" font-weight="200" stroke="#000" stroke-width="0.35" transform="rotate(90 470.5 454.5)" letter-spacing="0.3"><tspan textLength="11.5" lengthAdjust="spacingAndGlyphs">-</tspan>30</text>
<text x="80" y="99.7" font-size="20" text-anchor="start" font-family="Liberation Sans, sans-serif" font-weight="bold" stroke="#000" stroke-width="0.25" stroke-width="0.6" textLength="76" lengthAdjust="spacingAndGlyphs">AMSR2</text>
<g shape-rendering="crispEdges">
<rect x="532" y="66" width="402" height="402" fill="#000"/>
<rect x="533" y="67" width="400" height="400" fill="#fff"/>
<rect x="535" y="69" width="396" height="396" fill="#000"/>
<rect x="555" y="66" width="50" height="4" fill="#000"/>
<rect x="555" y="464" width="50" height="4" fill="#000"/>
<rect x="654" y="66" width="50" height="4" fill="#000"/>
<rect x="654" y="464" width="50" height="4" fill="#000"/>
<rect x="752" y="66" width="51" height="4" fill="#000"/>
<rect x="752" y="464" width="51" height="4" fill="#000"/>
<rect x="851" y="66" width="50" height="4" fill="#000"/>
<rect x="851" y="464" width="50" height="4" fill="#000"/>
<rect x="532" y="109" width="4" height="50" fill="#000"/>
<rect x="930" y="109" width="4" height="50" fill="#000"/>
<rect x="532" y="207" width="4" height="51" fill="#000"/>
<rect x="930" y="207" width="4" height="51" fill="#000"/>
<rect x="532" y="306" width="4" height="50" fill="#000"/>
<rect x="930" y="306" width="4" height="50" fill="#000"/>
<rect x="532" y="405" width="4" height="50" fill="#000"/>
<rect x="930" y="405" width="4" height="50" fill="#000"/>
<rect x="536" y="70" width="394" height="394" fill="#fff"/>
<rect x="764" y="129" width="5" height="5" fill="#bf80ef"/>
<rect x="759" y="134" width="10" height="5" fill="#8000e0"/>
<rect x="769" y="134" width="5" height="5" fill="#bf80ef"/>
<rect x="774" y="134" width="5" height="5" fill="#8080c0"/>
<rect x="779" y="134" width="5" height="5" fill="#bf80ef"/>
<rect x="759" y="139" width="10" height="5" fill="#8000e0"/>
<rect x="769" y="139" width="10" height="5" fill="#bf80ef"/>
<rect x="779" y="139" width="5" height="5" fill="#8080c0"/>
<rect x="784" y="139" width="4" height="5" fill="#bf80ef"/>
<rect x="759" y="144" width="10" height="5" fill="#8000e0"/>
<rect x="769" y="144" width="5" height="5" fill="#8080c0"/>
<rect x="774" y="144" width="14" height="5" fill="#bf80ef"/>
<rect x="754" y="149" width="15" height="4" fill="#8000e0"/>
<rect x="769" y="149" width="5" height="4" fill="#8080c0"/>
<rect x="774" y="149" width="14" height="4" fill="#bf80ef"/>
<rect x="754" y="153" width="15" height="5" fill="#8000e0"/>
<rect x="769" y="153" width="15" height="5" fill="#bf80ef"/>
<rect x="750" y="158" width="24" height="5" fill="#8000e0"/>
<rect x="774" y="158" width="10" height="5" fill="#bf80ef"/>
<rect x="750" y="163" width="24" height="5" fill="#8000e0"/>
<rect x="774" y="163" width="10" height="5" fill="#bf80ef"/>
<rect x="750" y="168" width="4" height="5" fill="#8000e0"/>
<rect x="754" y="168" width="5" height="5" fill="#000080"/>
<rect x="759" y="168" width="15" height="5" fill="#8000e0"/>
<rect x="774" y="168" width="5" height="5" fill="#bf80ef"/>
<rect x="745" y="173" width="29" height="5" fill="#8000e0"/>
<rect x="774" y="173" width="5" height="5" fill="#bf80ef"/>
<rect x="745" y="178" width="29" height="5" fill="#8000e0"/>
<rect x="740" y="183" width="34" height="5" fill="#8000e0"/>
<rect x="740" y="188" width="34" height="4" fill="#8000e0"/>
<rect x="740" y="192" width="5" height="5" fill="#000080"/>
<rect x="745" y="192" width="24" height="5" fill="#8000e0"/>
<rect x="735" y="197" width="5" height="5" fill="#8000e0"/>
<rect x="740" y="197" width="5" height="5" fill="#000080"/>
<rect x="745" y="197" width="24" height="5" fill="#8000e0"/>
<rect x="735" y="202" width="5" height="5" fill="#8000e0"/>
<rect x="740" y="202" width="10" height="5" fill="#000080"/>
<rect x="750" y="202" width="14" height="5" fill="#8000e0"/>
<rect x="730" y="207" width="15" height="5" fill="#8000e0"/>
<rect x="745" y="207" width="14" height="5" fill="#000080"/>
<rect x="759" y="207" width="5" height="5" fill="#8000e0"/>
<rect x="730" y="212" width="10" height="5" fill="#8000e0"/>
<rect x="740" y="212" width="14" height="5" fill="#000080"/>
<rect x="754" y="212" width="10" height="5" fill="#8000e0"/>
<rect x="730" y="217" width="5" height="5" fill="#8000e0"/>
<rect x="735" y="217" width="15" height="5" fill="#000080"/>
<rect x="750" y="217" width="9" height="5" fill="#8000e0"/>
<rect x="725" y="222" width="10" height="5" fill="#8000e0"/>
<rect x="735" y="222" width="15" height="5" fill="#000080"/>
<rect x="750" y="222" width="9" height="5" fill="#8000e0"/>
<rect x="725" y="227" width="5" height="4" fill="#8000e0"/>
<rect x="730" y="227" width="15" height="4" fill="#000080"/>
<rect x="745" y="227" width="9" height="4" fill="#8000e0"/>
<rect x="720" y="231" width="34" height="5" fill="#8000e0"/>
<rect x="720" y="236" width="15" height="5" fill="#8000e0"/>
<rect x="735" y="236" width="5" height="5" fill="#000080"/>
<rect x="740" y="236" width="5" height="5" fill="#8000e0"/>
<rect x="745" y="236" width="5" height="5" fill="#000080"/>
<rect x="750" y="236" width="4" height="5" fill="#8000e0"/>
<rect x="720" y="241" width="10" height="5" fill="#8000e0"/>
<rect x="730" y="241" width="10" height="5" fill="#000080"/>
<rect x="740" y="241" width="10" height="5" fill="#8000e0"/>
<rect x="715" y="246" width="30" height="5" fill="#000080"/>
<rect x="745" y="246" width="5" height="5" fill="#8000e0"/>
<rect x="715" y="251" width="30" height="5" fill="#000080"/>
<rect x="711" y="256" width="34" height="5" fill="#000080"/>
<rect x="711" y="261" width="29" height="5" fill="#000080"/>
<rect x="740" y="261" width="5" height="5" fill="#8000e0"/>
<rect x="711" y="266" width="29" height="4" fill="#000080"/>
<rect x="706" y="270" width="9" height="5" fill="#8000e0"/>
<rect x="715" y="270" width="20" height="5" fill="#000080"/>
<rect x="735" y="270" width="5" height="5" fill="#8000e0"/>
<rect x="706" y="275" width="9" height="5" fill="#8000e0"/>
<rect x="715" y="275" width="5" height="5" fill="#000080"/>
<rect x="720" y="275" width="10" height="5" fill="#8000e0"/>
<rect x="730" y="275" width="5" height="5" fill="#000080"/>
<rect x="701" y="280" width="5" height="5" fill="#8000e0"/>
<rect x="706" y="280" width="14" height="5" fill="#000080"/>
<rect x="720" y="280" width="15" height="5" fill="#8000e0"/>
<rect x="701" y="285" width="29" height="5" fill="#000080"/>
<rect x="730" y="285" width="5" height="5" fill="#8000e0"/>
<rect x="696" y="290" width="5" height="5" fill="#8000e0"/>
<rect x="701" y="290" width="10" height="5" fill="#000080"/>
<rect x="711" y="290" width="9" height="5" fill="#8000e0"/>
<rect x="720" y="290" width="10" height="5" fill="#000080"/>
<rect x="696" y="295" width="5" height="5" fill="#8000e0"/>
<rect x="701" y="295" width="19" height="5" fill="#000080"/>
<rect x="720" y="295" width="10" height="5" fill="#8000e0"/>
<rect x="696" y="300" width="10" height="5" fill="#8000e0"/>
<rect x="706" y="300" width="19" height="5" fill="#000080"/>
<rect x="691" y="305" width="20" height="4" fill="#8000e0"/>
<rect x="711" y="305" width="9" height="4" fill="#000080"/>
<rect x="720" y="305" width="5" height="4" fill="#8000e0"/>
<rect x="691" y="309" width="5" height="5" fill="#8000e0"/>
<rect x="696" y="309" width="5" height="5" fill="#000080"/>
<rect x="701" y="309" width="14" height="5" fill="#8000e0"/>
<rect x="715" y="309" width="5" height="5" fill="#000080"/>
<rect x="686" y="314" width="34" height="5" fill="#8000e0"/>
<rect x="686" y="319" width="34" height="5" fill="#8000e0"/>
<rect x="681" y="324" width="34" height="5" fill="#8000e0"/>
<rect x="681" y="329" width="10" height="5" fill="#8000e0"/>
<rect x="691" y="329" width="15" height="5" fill="#000080"/>
<rect x="706" y="329" width="9" height="5" fill="#8000e0"/>
<rect x="677" y="334" width="19" height="5" fill="#8000e0"/>
<rect x="696" y="334" width="10" height="5" fill="#000080"/>
<rect x="706" y="334" width="5" height="5" fill="#8000e0"/>
<rect x="677" y="339" width="9" height="5" fill="#8000e0"/>
<rect x="686" y="339" width="5" height="5" fill="#000080"/>
<rect x="691" y="339" width="5" height="5" fill="#8000e0"/>
<rect x="696" y="339" width="15" height="5" fill="#000080"/>
<rect x="672" y="344" width="34" height="4" fill="#8000e0"/>
<rect x="672" y="348" width="9" height="5" fill="#8000e0"/>
<rect x="681" y="348" width="20" height="5" fill="#000080"/>
<rect x="701" y="348" width="5" height="5" fill="#8000e0"/>
<rect x="672" y="353" width="14" height="5" fill="#000080"/>
<rect x="686" y="353" width="5" height="5" fill="#0000ff"/>
<rect x="691" y="353" width="10" height="5" fill="#000080"/>
<rect x="701" y="353" width="5" height="5" fill="#8000e0"/>
<rect x="667" y="358" width="5" height="5" fill="#8000e0"/>
<rect x="672" y="358" width="9" height="5" fill="#000080"/>
<rect x="681" y="358" width="10" height="5" fill="#8000e0"/>
<rect x="691" y="358" width="10" height="5" fill="#000080"/>
<rect x="667" y="363" width="34" height="5" fill="#8000e0"/>
<rect x="662" y="368" width="15" height="5" fill="#8000e0"/>
<rect x="677" y="368" width="14" height="5" fill="#000080"/>
<rect x="691" y="368" width="5" height="5" fill="#8000e0"/>
<rect x="662" y="373" width="24" height="5" fill="#8000e0"/>
<rect x="686" y="373" width="10" height="5" fill="#000080"/>
<rect x="657" y="378" width="10" height="5" fill="#bf80ef"/>
<rect x="667" y="378" width="5" height="5" fill="#8000e0"/>
<rect x="672" y="378" width="5" height="5" fill="#000080"/>
<rect x="677" y="378" width="9" height="5" fill="#8000e0"/>
<rect x="686" y="378" width="5" height="5" fill="#000080"/>
<rect x="657" y="383" width="10" height="4" fill="#bf80ef"/>
<rect x="667" y="383" width="5" height="4" fill="#8000e0"/>
<rect x="672" y="383" width="5" height="4" fill="#000080"/>
<rect x="677" y="383" width="14" height="4" fill="#8000e0"/>
<rect x="652" y="387" width="5" height="5" fill="#8080c0"/>
<rect x="657" y="387" width="5" height="5" fill="#bf80ef"/>
<rect x="662" y="387" width="5" height="5" fill="#8080c0"/>
<rect x="667" y="387" width="10" height="5" fill="#8000e0"/>
<rect x="677" y="387" width="4" height="5" fill="#000080"/>
<rect x="681" y="387" width="5" height="5" fill="#8000e0"/>
<rect x="652" y="392" width="15" height="5" fill="#8080c0"/>
<rect x="667" y="392" width="19" height="5" fill="#000080"/>
<rect x="647" y="397" width="10" height="5" fill="#bf80ef"/>
<rect x="657" y="397" width="10" height="5" fill="#8080c0"/>
<rect x="667" y="397" width="5" height="5" fill="#000080"/>
<rect x="672" y="397" width="9" height="5" fill="#0070ff"/>
<rect x="647" y="402" width="20" height="5" fill="#8080c0"/>
<rect x="667" y="402" width="5" height="5" fill="#8080ff"/>
<rect x="672" y="402" width="5" height="5" fill="#0000ff"/>
<rect x="677" y="402" width="4" height="5" fill="#8000e0"/>
<rect x="652" y="407" width="5" height="5" fill="#8080c0"/>
<rect x="657" y="407" width="5" height="5" fill="#8080ff"/>
<rect x="662" y="407" width="5" height="5" fill="#8080c0"/>
<rect x="667" y="407" width="5" height="5" fill="#bf80ef"/>
<rect x="672" y="407" width="5" height="5" fill="#000080"/>
<rect x="662" y="412" width="5" height="5" fill="#bf80ef"/>
<rect x="667" y="412" width="5" height="5" fill="#8080c0"/>
<rect x="672" y="412" width="5" height="5" fill="#000080"/>
<rect x="587.75" y="149.75" width="1" height="1" fill="#000"/>
<rect x="589.75" y="155.75" width="1" height="1" fill="#000"/>
<rect x="603.25" y="166.75" width="3" height="1" fill="#000"/>
<rect x="606.25" y="167.75" width="1" height="1" fill="#000"/>
<rect x="604.25" y="173.25" width="1" height="2" fill="#000"/>
<rect x="609.25" y="175.0" width="1" height="1.5" fill="#000"/>
<rect x="612.5" y="193.0" width="1.5" height="1.5" fill="#000"/>
<rect x="621.25" y="194.75" width="2" height="2" fill="#000"/>
<rect x="636.5" y="185.0" width="2.5" height="2.5" fill="#000"/>
<rect x="642.5" y="188.25" width="2.5" height="2" fill="#000"/>
<rect x="638.25" y="192.75" width="2" height="2" fill="#000"/>
<rect x="645.75" y="193.75" width="2" height="2" fill="#000"/>
<rect x="644.25" y="195.75" width="2" height="2" fill="#000"/>
<rect x="631.25" y="202.0" width="3" height="1.5" fill="#000"/>
<rect x="640.5" y="201.25" width="2.5" height="2" fill="#000"/>
<rect x="541.5" y="231.5" width="1.5" height="1.5" fill="#000"/>
<rect x="537.75" y="235.5" width="2" height="2.5" fill="#000"/>
<rect x="545.0" y="240.25" width="2.5" height="3" fill="#000"/>
<rect x="590.25" y="243.75" width="1" height="2" fill="#000"/>
<rect x="629.25" y="241.75" width="1" height="2" fill="#000"/>
<rect x="634.25" y="248.25" width="2" height="2" fill="#000"/>
<rect x="641.25" y="249.75" width="2" height="2" fill="#000"/>
<rect x="549.25" y="260.75" width="4" height="3" fill="#000"/>
<rect x="552.25" y="258.75" width="1" height="5" fill="#000"/>
<rect x="553.25" y="265.25" width="1" height="1" fill="#000"/>
<rect x="562.75" y="262.25" width="1" height="2" fill="#000"/>
<rect x="585.5" y="266.0" width="2.5" height="2.5" fill="#000"/>
<rect x="558.75" y="271.0" width="1" height="1.5" fill="#000"/>
<rect x="555.75" y="274.0" width="2" height="1.5" fill="#000"/>
<rect x="570.75" y="273.75" width="3" height="2" fill="#000"/>
<rect x="577.75" y="273.25" width="2" height="1" fill="#000"/>
<rect x="727.75" y="93.75" width="2" height="2" fill="#000"/>
<rect x="729.75" y="99.75" width="3" height="1" fill="#000"/>
<rect x="747.25" y="110.75" width="2" height="2" fill="#000"/>
<rect x="758.0" y="118.25" width="2.5" height="3" fill="#000"/>
<rect x="775.0" y="137.75" width="4.5" height="2" fill="#000"/>
<rect x="777.75" y="139.25" width="3" height="2" fill="#000"/>
<rect x="800.75" y="197.75" width="2" height="1" fill="#000"/>
<rect x="791.75" y="212.75" width="2" height="2" fill="#000"/>
<rect x="770.75" y="246.0" width="3" height="2.5" fill="#000"/>
<rect x="826.75" y="256.75" width="2" height="2" fill="#000"/>
<rect x="847.5" y="255.0" width="2.5" height="2.5" fill="#000"/>
<rect x="833.25" y="269.0" width="1" height="2.5" fill="#000"/>
<rect x="805.75" y="313.75" width="2" height="1" fill="#000"/>
<rect x="803.75" y="319.75" width="2" height="2" fill="#000"/>
<rect x="812.0" y="322.75" width="1.5" height="2" fill="#000"/>
<rect x="828.5" y="320.0" width="1.5" height="1.5" fill="#000"/>
<rect x="832.5" y="317.0" width="1.5" height="3.5" fill="#000"/>
<rect x="834.75" y="319.75" width="3" height="4" fill="#000"/>
<rect x="839.25" y="322.75" width="3" height="2" fill="#000"/>
<rect x="854.75" y="324.75" width="2" height="2" fill="#000"/>
<rect x="843.75" y="331.75" width="2" height="2" fill="#000"/>
<rect x="849.75" y="329.25" width="3" height="2" fill="#000"/>
<polygon points="854.5,331.5 858.5,331.5 859.5,333.5 855.5,333.5" fill="#fff" stroke="#000" stroke-width="1"/>
<rect x="856.75" y="332.5" width="3" height="1.5" fill="#000"/>
<polygon points="625.5,291 631,291.5 633.5,293.5 630,295 627,294" fill="#a8a8a8" stroke="#000" stroke-width="1"/>
<polygon points="632.5,294.5 637,295 640,297 637,297.5 633.5,296.5" fill="#fff" stroke="#000" stroke-width="1"/>
<rect x="644.25" y="298.75" width="4" height="1" fill="#000"/>
<rect x="646.25" y="299.75" width="2" height="1" fill="#000"/>
<rect x="656.25" y="297.75" width="3" height="2" fill="#000"/>
<rect x="693.75" y="264.75" width="2" height="2" fill="#000"/>
<rect x="697.0" y="271.75" width="2.5" height="1" fill="#000"/>
<rect x="615.75" y="314.75" width="2" height="2" fill="#000"/>
<rect x="614.5" y="340.75" width="1.5" height="2" fill="#000"/>
<rect x="653.5" y="345.0" width="2.5" height="2.5" fill="#000"/>
<rect x="741.75" y="259.75" width="2" height="2" fill="#000"/>
<rect x="720.75" y="287.25" width="2" height="3" fill="#000"/>
<rect x="720.75" y="333.75" width="1" height="3" fill="#000"/>
<rect x="753.75" y="343.75" width="2" height="2" fill="#000"/>
<rect x="761.75" y="348.25" width="2" height="1" fill="#000"/>
<rect x="769.25" y="353.75" width="2" height="2" fill="#000"/>
<rect x="774.5" y="353.0" width="1.5" height="1.5" fill="#000"/>
<rect x="778.5" y="356.5" width="1.5" height="1.5" fill="#000"/>
<rect x="741.5" y="359.5" width="1.5" height="2.5" fill="#000"/>
<rect x="753.75" y="366.75" width="2" height="2" fill="#000"/>
<rect x="771.75" y="373.75" width="2" height="2" fill="#000"/>
<rect x="629.5" y="363.75" width="2.5" height="1" fill="#000"/>
<rect x="614.75" y="381.75" width="1" height="1" fill="#000"/>
<rect x="803.75" y="373.25" width="2" height="1" fill="#000"/>
<rect x="821.75" y="380.75" width="2" height="2" fill="#000"/>
<rect x="836.75" y="378.75" width="2" height="2" fill="#000"/>
<rect x="837.75" y="383.0" width="2" height="1.5" fill="#000"/>
<rect x="854.25" y="388.0" width="3" height="1.5" fill="#000"/>
<rect x="872.25" y="393.0" width="3" height="1.5" fill="#000"/>
<rect x="906.5" y="429.5" width="1.5" height="2.5" fill="#000"/>
<rect x="914.5" y="432.5" width="1.5" height="2.5" fill="#000"/>
<rect x="575.75" y="445.75" width="1" height="1" fill="#000"/>
<rect x="568.75" y="455.75" width="1" height="1" fill="#000"/>
<polygon points="538,320 545,318 551,317 557,317 557,322 556,326 553,327 550,325 545,327 541,326 539,324" fill="#000" stroke="#000" stroke-width="1"/>
<polyline points="542.5,323 552,319.5" fill="none" stroke="#a8a8a8" stroke-width="1.6"/>
<rect x="558" y="316" width="5" height="2" fill="#000"/>
<polygon points="536,328.5 540,329 543,333 542,337 536,338.5" fill="#a8a8a8" stroke="#000" stroke-width="1"/>
<rect x="541" y="328" width="3" height="3" fill="#000"/>
<rect x="543" y="331" width="3" height="2" fill="#000"/>
<rect x="547" y="333" width="3" height="4" fill="#000"/>
<rect x="545" y="335" width="2" height="2" fill="#000"/>
<rect x="541" y="337" width="2" height="3" fill="#000"/>
<polygon points="536,346.5 540.5,346.5 541.5,343 540,342.5" fill="#fff" stroke="#000" stroke-width="1"/>
<rect x="559" y="328" width="2" height="3" fill="#000"/>
<rect x="563" y="326.5" width="6" height="4" fill="#000"/>
<rect x="561" y="333" width="2" height="2" fill="#000"/>
<rect x="564" y="335" width="2" height="2" fill="#000"/>
<rect x="566" y="337" width="7" height="2" fill="#000"/>
<rect x="570" y="334" width="2" height="3" fill="#000"/>
<polygon points="568.5,342.5 572.5,342.5 572.5,347.5 568.5,347.5" fill="#fff" stroke="#000" stroke-width="1"/>
<rect x="569" y="344" width="2" height="2" fill="#000"/>
<rect x="553" y="341" width="3" height="2" fill="#000"/>
<rect x="559" y="342" width="2" height="1" fill="#000"/>
<rect x="555" y="345" width="3" height="1" fill="#000"/>
<rect x="552" y="347" width="2" height="2" fill="#000"/>
<rect x="565" y="345" width="1" height="2" fill="#000"/>
<rect x="562" y="339" width="1" height="2" fill="#000"/>
<rect x="572" y="353" width="2" height="2" fill="#000"/>
<rect x="567" y="361" width="2" height="2" fill="#000"/>
<rect x="566" y="365" width="2" height="2" fill="#000"/>
<rect x="573" y="298" width="3" height="3" fill="#000"/>
<rect x="592" y="290" width="3" height="1" fill="#000"/>
<rect x="597" y="312" width="2" height="1" fill="#000"/>
<rect x="616" y="315" width="2" height="2" fill="#000"/>
<rect x="612" y="337" width="1" height="1" fill="#000"/>
<rect x="613" y="341" width="3" height="3" fill="#000"/>
<rect x="607" y="343" width="2" height="2" fill="#000"/>
<rect x="605" y="347" width="2" height="2" fill="#000"/>
<rect x="607" y="353" width="4" height="8" fill="#000"/>
<rect x="610" y="351" width="3" height="3" fill="#000"/>
<rect x="603" y="352" width="2" height="3" fill="#000"/>
<rect x="600" y="359" width="1" height="3" fill="#000"/>
<rect x="601" y="365" width="3" height="3" fill="#000"/>
<rect x="604" y="362" width="1" height="8" fill="#000"/>
<rect x="605" y="369" width="2" height="2" fill="#000"/>
<rect x="630" y="364" width="1" height="1" fill="#000"/>
<rect x="865" y="305" width="2" height="2" fill="#000"/>
<polygon points="867.5,305.5 873,305.5 879.5,309.5 874,309 868,307.5" fill="#fff" stroke="#000" stroke-width="1"/>
<rect x="869" y="315" width="2" height="2" fill="#000"/>
<rect x="886.5" y="301" width="3" height="2" fill="#000"/>
<rect x="890.5" y="300" width="3" height="2" fill="#000"/>
<rect x="899" y="301" width="4" height="3" fill="#000"/>
<rect x="904.5" y="305.5" width="2" height="1.5" fill="#000"/>
<polygon points="882.5,309 885.5,309 885.5,311.5 882.5,311.5" fill="#fff" stroke="#000" stroke-width="1"/>
<polygon points="886.5,310 889.5,310 889.5,312.5 886.5,312.5" fill="#fff" stroke="#000" stroke-width="1"/>
<rect x="882" y="312.5" width="4.5" height="2.5" fill="#000"/>
<polygon points="889.5,314.5 892,314.5 892,316.5 889.5,316.5" fill="#fff" stroke="#000" stroke-width="1"/>
<polygon points="892.5,316.5 895,316.5 895,319 892.5,319" fill="#fff" stroke="#000" stroke-width="1"/>
<rect x="894.5" y="318.5" width="3" height="3" fill="#000"/>
<rect x="896" y="311" width="2" height="2.5" fill="#000"/>
<rect x="898.5" y="313" width="3" height="3" fill="#000"/>
<rect x="900.5" y="316" width="3" height="3.5" fill="#000"/>
<rect x="903" y="313" width="2" height="1" fill="#000"/>
<rect x="887.5" y="318" width="1" height="1" fill="#000"/>
<rect x="897" y="323" width="4" height="1.5" fill="#000"/>
<polygon points="901.5,324 904.5,324 905,326.5 901.5,326.5" fill="#fff" stroke="#000" stroke-width="1"/>
<rect x="905" y="325.5" width="3.5" height="3" fill="#000"/>
<rect x="906.5" y="319.5" width="1" height="1" fill="#000"/>
<rect x="907.5" y="320.5" width="1" height="3" fill="#000"/>
<rect x="906.5" y="323.5" width="1" height="1" fill="#000"/>
<rect x="910" y="320" width="4" height="2.5" fill="#000"/>
<rect x="913" y="322" width="4" height="2" fill="#000"/>
<rect x="918.5" y="318.5" width="2.5" height="2.5" fill="#000"/>
<rect x="921" y="322" width="2" height="2.5" fill="#000"/>
<rect x="917" y="325" width="4" height="3.5" fill="#000"/>
<rect x="916" y="330.5" width="2" height="2" fill="#000"/>
<rect x="924" y="330.5" width="2.5" height="2.5" fill="#000"/>
<rect x="920" y="334" width="2" height="1" fill="#000"/>
<rect x="926.5" y="335.5" width="3" height="3.5" fill="#000"/>
<rect x="925" y="316" width="2.5" height="2.5" fill="#000"/>
<rect x="927" y="314" width="2.5" height="2" fill="#000"/>
<rect x="894" y="329" width="3.5" height="2.5" fill="#000"/>
<rect x="856" y="325.5" width="2" height="2" fill="#000"/>
<rect x="845" y="333" width="1" height="1.5" fill="#000"/>
<rect x="901" y="354.5" width="2" height="1.5" fill="#000"/>
<rect x="915" y="359.5" width="2" height="2" fill="#000"/>
<rect x="917" y="361.5" width="1" height="1" fill="#000"/>
<rect x="919.5" y="362" width="1.5" height="1" fill="#000"/>
<line x1="555.5" y1="73" x2="555.5" y2="464" stroke="#000" stroke-width="1" stroke-dasharray="1 3"/>
<line x1="604.5" y1="73" x2="604.5" y2="464" stroke="#000" stroke-width="1" stroke-dasharray="1 3"/>
<line x1="654.5" y1="73" x2="654.5" y2="464" stroke="#000" stroke-width="1" stroke-dasharray="1 3"/>
<line x1="703.5" y1="73" x2="703.5" y2="464" stroke="#000" stroke-width="1" stroke-dasharray="1 3"/>
<line x1="752.5" y1="73" x2="752.5" y2="464" stroke="#000" stroke-width="1" stroke-dasharray="1 3"/>
<line x1="802.5" y1="73" x2="802.5" y2="464" stroke="#000" stroke-width="1" stroke-dasharray="1 3"/>
<line x1="851.5" y1="73" x2="851.5" y2="464" stroke="#000" stroke-width="1" stroke-dasharray="1 3"/>
<line x1="900.5" y1="73" x2="900.5" y2="464" stroke="#000" stroke-width="1" stroke-dasharray="1 3"/>
<line x1="539" y1="109.5" x2="930" y2="109.5" stroke="#000" stroke-width="1" stroke-dasharray="1 3"/>
<line x1="539" y1="158.5" x2="930" y2="158.5" stroke="#000" stroke-width="1" stroke-dasharray="1 3"/>
<line x1="539" y1="207.5" x2="930" y2="207.5" stroke="#000" stroke-width="1" stroke-dasharray="1 3"/>
<line x1="539" y1="257.5" x2="930" y2="257.5" stroke="#000" stroke-width="1" stroke-dasharray="1 3"/>
<line x1="539" y1="306.5" x2="930" y2="306.5" stroke="#000" stroke-width="1" stroke-dasharray="1 3"/>
<line x1="539" y1="355.5" x2="930" y2="355.5" stroke="#000" stroke-width="1" stroke-dasharray="1 3"/>
<line x1="539" y1="405.5" x2="930" y2="405.5" stroke="#000" stroke-width="1" stroke-dasharray="1 3"/>
<line x1="539" y1="454.5" x2="930" y2="454.5" stroke="#000" stroke-width="1" stroke-dasharray="1 3"/>
</g>
<text x="555.5" y="64.3" font-size="11.5" text-anchor="middle" font-family="DejaVu Sans Light, DejaVu Sans, Liberation Sans, sans-serif" font-weight="200" stroke="#000" stroke-width="0.35" letter-spacing="0.3">180</text>
<text x="555.5" y="477.6" font-size="11.5" text-anchor="middle" font-family="DejaVu Sans Light, DejaVu Sans, Liberation Sans, sans-serif" font-weight="200" stroke="#000" stroke-width="0.35" letter-spacing="0.3">180</text>
<text x="604.5" y="64.3" font-size="11.5" text-anchor="middle" font-family="DejaVu Sans Light, DejaVu Sans, Liberation Sans, sans-serif" font-weight="200" stroke="#000" stroke-width="0.35" letter-spacing="0.3"><tspan textLength="11.5" lengthAdjust="spacingAndGlyphs">-</tspan>175</text>
<text x="604.5" y="477.6" font-size="11.5" text-anchor="middle" font-family="DejaVu Sans Light, DejaVu Sans, Liberation Sans, sans-serif" font-weight="200" stroke="#000" stroke-width="0.35" letter-spacing="0.3"><tspan textLength="11.5" lengthAdjust="spacingAndGlyphs">-</tspan>175</text>
<text x="654.5" y="64.3" font-size="11.5" text-anchor="middle" font-family="DejaVu Sans Light, DejaVu Sans, Liberation Sans, sans-serif" font-weight="200" stroke="#000" stroke-width="0.35" letter-spacing="0.3"><tspan textLength="11.5" lengthAdjust="spacingAndGlyphs">-</tspan>170</text>
<text x="654.5" y="477.6" font-size="11.5" text-anchor="middle" font-family="DejaVu Sans Light, DejaVu Sans, Liberation Sans, sans-serif" font-weight="200" stroke="#000" stroke-width="0.35" letter-spacing="0.3"><tspan textLength="11.5" lengthAdjust="spacingAndGlyphs">-</tspan>170</text>
<text x="703.5" y="64.3" font-size="11.5" text-anchor="middle" font-family="DejaVu Sans Light, DejaVu Sans, Liberation Sans, sans-serif" font-weight="200" stroke="#000" stroke-width="0.35" letter-spacing="0.3"><tspan textLength="11.5" lengthAdjust="spacingAndGlyphs">-</tspan>165</text>
<text x="703.5" y="477.6" font-size="11.5" text-anchor="middle" font-family="DejaVu Sans Light, DejaVu Sans, Liberation Sans, sans-serif" font-weight="200" stroke="#000" stroke-width="0.35" letter-spacing="0.3"><tspan textLength="11.5" lengthAdjust="spacingAndGlyphs">-</tspan>165</text>
<text x="752.5" y="64.3" font-size="11.5" text-anchor="middle" font-family="DejaVu Sans Light, DejaVu Sans, Liberation Sans, sans-serif" font-weight="200" stroke="#000" stroke-width="0.35" letter-spacing="0.3"><tspan textLength="11.5" lengthAdjust="spacingAndGlyphs">-</tspan>160</text>
<text x="752.5" y="477.6" font-size="11.5" text-anchor="middle" font-family="DejaVu Sans Light, DejaVu Sans, Liberation Sans, sans-serif" font-weight="200" stroke="#000" stroke-width="0.35" letter-spacing="0.3"><tspan textLength="11.5" lengthAdjust="spacingAndGlyphs">-</tspan>160</text>
<text x="802.5" y="64.3" font-size="11.5" text-anchor="middle" font-family="DejaVu Sans Light, DejaVu Sans, Liberation Sans, sans-serif" font-weight="200" stroke="#000" stroke-width="0.35" letter-spacing="0.3"><tspan textLength="11.5" lengthAdjust="spacingAndGlyphs">-</tspan>155</text>
<text x="802.5" y="477.6" font-size="11.5" text-anchor="middle" font-family="DejaVu Sans Light, DejaVu Sans, Liberation Sans, sans-serif" font-weight="200" stroke="#000" stroke-width="0.35" letter-spacing="0.3"><tspan textLength="11.5" lengthAdjust="spacingAndGlyphs">-</tspan>155</text>
<text x="851.5" y="64.3" font-size="11.5" text-anchor="middle" font-family="DejaVu Sans Light, DejaVu Sans, Liberation Sans, sans-serif" font-weight="200" stroke="#000" stroke-width="0.35" letter-spacing="0.3"><tspan textLength="11.5" lengthAdjust="spacingAndGlyphs">-</tspan>150</text>
<text x="851.5" y="477.6" font-size="11.5" text-anchor="middle" font-family="DejaVu Sans Light, DejaVu Sans, Liberation Sans, sans-serif" font-weight="200" stroke="#000" stroke-width="0.35" letter-spacing="0.3"><tspan textLength="11.5" lengthAdjust="spacingAndGlyphs">-</tspan>150</text>
<text x="900.5" y="64.3" font-size="11.5" text-anchor="middle" font-family="DejaVu Sans Light, DejaVu Sans, Liberation Sans, sans-serif" font-weight="200" stroke="#000" stroke-width="0.35" letter-spacing="0.3"><tspan textLength="11.5" lengthAdjust="spacingAndGlyphs">-</tspan>145</text>
<text x="900.5" y="477.6" font-size="11.5" text-anchor="middle" font-family="DejaVu Sans Light, DejaVu Sans, Liberation Sans, sans-serif" font-weight="200" stroke="#000" stroke-width="0.35" letter-spacing="0.3"><tspan textLength="11.5" lengthAdjust="spacingAndGlyphs">-</tspan>145</text>
<text x="530.5" y="109.5" font-size="11.5" text-anchor="middle" font-family="DejaVu Sans Light, DejaVu Sans, Liberation Sans, sans-serif" font-weight="200" stroke="#000" stroke-width="0.35" transform="rotate(-90 530.5 109.5)" letter-spacing="0.3">5</text>
<text x="935.5" y="109.5" font-size="11.5" text-anchor="middle" font-family="DejaVu Sans Light, DejaVu Sans, Liberation Sans, sans-serif" font-weight="200" stroke="#000" stroke-width="0.35" transform="rotate(90 935.5 109.5)" letter-spacing="0.3">5</text>
<text x="530.5" y="158.5" font-size="11.5" text-anchor="middle" font-family="DejaVu Sans Light, DejaVu Sans, Liberation Sans, sans-serif" font-weight="200" stroke="#000" stroke-width="0.35" transform="rotate(-90 530.5 158.5)" letter-spacing="0.3">0</text>
<text x="935.5" y="158.5" font-size="11.5" text-anchor="middle" font-family="DejaVu Sans Light, DejaVu Sans, Liberation Sans, sans-serif" font-weight="200" stroke="#000" stroke-width="0.35" transform="rotate(90 935.5 158.5)" letter-spacing="0.3">0</text>
<text x="530.5" y="207.5" font-size="11.5" text-anchor="middle" font-family="DejaVu Sans Light, DejaVu Sans, Liberation Sans, sans-serif" font-weight="200" stroke="#000" stroke-width="0.35" transform="rotate(-90 530.5 207.5)" letter-spacing="0.3"><tspan textLength="11.5" lengthAdjust="spacingAndGlyphs">-</tspan>5</text>
<text x="935.5" y="207.5" font-size="11.5" text-anchor="middle" font-family="DejaVu Sans Light, DejaVu Sans, Liberation Sans, sans-serif" font-weight="200" stroke="#000" stroke-width="0.35" transform="rotate(90 935.5 207.5)" letter-spacing="0.3"><tspan textLength="11.5" lengthAdjust="spacingAndGlyphs">-</tspan>5</text>
<text x="530.5" y="257.5" font-size="11.5" text-anchor="middle" font-family="DejaVu Sans Light, DejaVu Sans, Liberation Sans, sans-serif" font-weight="200" stroke="#000" stroke-width="0.35" transform="rotate(-90 530.5 257.5)" letter-spacing="0.3"><tspan textLength="11.5" lengthAdjust="spacingAndGlyphs">-</tspan>10</text>
<text x="935.5" y="257.5" font-size="11.5" text-anchor="middle" font-family="DejaVu Sans Light, DejaVu Sans, Liberation Sans, sans-serif" font-weight="200" stroke="#000" stroke-width="0.35" transform="rotate(90 935.5 257.5)" letter-spacing="0.3"><tspan textLength="11.5" lengthAdjust="spacingAndGlyphs">-</tspan>10</text>
<text x="530.5" y="306.5" font-size="11.5" text-anchor="middle" font-family="DejaVu Sans Light, DejaVu Sans, Liberation Sans, sans-serif" font-weight="200" stroke="#000" stroke-width="0.35" transform="rotate(-90 530.5 306.5)" letter-spacing="0.3"><tspan textLength="11.5" lengthAdjust="spacingAndGlyphs">-</tspan>15</text>
<text x="935.5" y="306.5" font-size="11.5" text-anchor="middle" font-family="DejaVu Sans Light, DejaVu Sans, Liberation Sans, sans-serif" font-weight="200" stroke="#000" stroke-width="0.35" transform="rotate(90 935.5 306.5)" letter-spacing="0.3"><tspan textLength="11.5" lengthAdjust="spacingAndGlyphs">-</tspan>15</text>
<text x="530.5" y="355.5" font-size="11.5" text-anchor="middle" font-family="DejaVu Sans Light, DejaVu Sans, Liberation Sans, sans-serif" font-weight="200" stroke="#000" stroke-width="0.35" transform="rotate(-90 530.5 355.5)" letter-spacing="0.3"><tspan textLength="11.5" lengthAdjust="spacingAndGlyphs">-</tspan>20</text>
<text x="935.5" y="355.5" font-size="11.5" text-anchor="middle" font-family="DejaVu Sans Light, DejaVu Sans, Liberation Sans, sans-serif" font-weight="200" stroke="#000" stroke-width="0.35" transform="rotate(90 935.5 355.5)" letter-spacing="0.3"><tspan textLength="11.5" lengthAdjust="spacingAndGlyphs">-</tspan>20</text>
<text x="530.5" y="405.5" font-size="11.5" text-anchor="middle" font-family="DejaVu Sans Light, DejaVu Sans, Liberation Sans, sans-serif" font-weight="200" stroke="#000" stroke-width="0.35" transform="rotate(-90 530.5 405.5)" letter-spacing="0.3"><tspan textLength="11.5" lengthAdjust="spacingAndGlyphs">-</tspan>25</text>
<text x="935.5" y="405.5" font-size="11.5" text-anchor="middle" font-family="DejaVu Sans Light, DejaVu Sans, Liberation Sans, sans-serif" font-weight="200" stroke="#000" stroke-width="0.35" transform="rotate(90 935.5 405.5)" letter-spacing="0.3"><tspan textLength="11.5" lengthAdjust="spacingAndGlyphs">-</tspan>25</text>
<text x="530.5" y="454.5" font-size="11.5" text-anchor="middle" font-family="DejaVu Sans Light, DejaVu Sans, Liberation Sans, sans-serif" font-weight="200" stroke="#000" stroke-width="0.35" transform="rotate(-90 530.5 454.5)" letter-spacing="0.3"><tspan textLength="11.5" lengthAdjust="spacingAndGlyphs">-</tspan>30</text>
<text x="935.5" y="454.5" font-size="11.5" text-anchor="middle" font-family="DejaVu Sans Light, DejaVu Sans, Liberation Sans, sans-serif" font-weight="200" stroke="#000" stroke-width="0.35" transform="rotate(90 935.5 454.5)" letter-spacing="0.3"><tspan textLength="11.5" lengthAdjust="spacingAndGlyphs">-</tspan>30</text>
<text x="545.5" y="99.7" font-size="20" text-anchor="start" font-family="Liberation Sans, sans-serif" font-weight="bold" stroke="#000" stroke-width="0.25" stroke-width="0.6" textLength="280" lengthAdjust="spacingAndGlyphs">2ADPR precipRateESurface</text>
<g shape-rendering="crispEdges" stroke="#000" stroke-width="1" fill="none">
<rect x="535.5" y="534.5" width="395.0" height="395.0"/>
<line x1="579.5" y1="929.5" x2="579.5" y2="926.5"/>
<line x1="579.5" y1="534.5" x2="579.5" y2="537.5"/>
<line x1="535.5" y1="885.5" x2="538.5" y2="885.5"/>
<line x1="930.5" y1="885.5" x2="927.5" y2="885.5"/>
<line x1="600.5" y1="929.5" x2="600.5" y2="926.5"/>
<line x1="600.5" y1="534.5" x2="600.5" y2="537.5"/>
<line x1="535.5" y1="864.5" x2="538.5" y2="864.5"/>
<line x1="930.5" y1="864.5" x2="927.5" y2="864.5"/>
<line x1="615.5" y1="929.5" x2="615.5" y2="926.5"/>
<line x1="615.5" y1="534.5" x2="615.5" y2="537.5"/>
<line x1="535.5" y1="849.5" x2="538.5" y2="849.5"/>
<line x1="930.5" y1="849.5" x2="927.5" y2="849.5"/>
<line x1="625.5" y1="929.5" x2="625.5" y2="926.5"/>
<line x1="625.5" y1="534.5" x2="625.5" y2="537.5"/>
<line x1="535.5" y1="839.5" x2="538.5" y2="839.5"/>
<line x1="930.5" y1="839.5" x2="927.5" y2="839.5"/>
<line x1="634.5" y1="929.5" x2="634.5" y2="924.5"/>
<line x1="634.5" y1="534.5" x2="634.5" y2="539.5"/>
<line x1="535.5" y1="830.5" x2="540.5" y2="830.5"/>
<line x1="930.5" y1="830.5" x2="925.5" y2="830.5"/>
<line x1="678.5" y1="929.5" x2="678.5" y2="926.5"/>
<line x1="678.5" y1="534.5" x2="678.5" y2="537.5"/>
<line x1="535.5" y1="786.5" x2="538.5" y2="786.5"/>
<line x1="930.5" y1="786.5" x2="927.5" y2="786.5"/>
<line x1="699.5" y1="929.5" x2="699.5" y2="926.5"/>
<line x1="699.5" y1="534.5" x2="699.5" y2="537.5"/>
<line x1="535.5" y1="765.5" x2="538.5" y2="765.5"/>
<line x1="930.5" y1="765.5" x2="927.5" y2="765.5"/>
<line x1="713.5" y1="929.5" x2="713.5" y2="926.5"/>
<line x1="713.5" y1="534.5" x2="713.5" y2="537.5"/>
<line x1="535.5" y1="751.5" x2="538.5" y2="751.5"/>
<line x1="930.5" y1="751.5" x2="927.5" y2="751.5"/>
<line x1="724.5" y1="929.5" x2="724.5" y2="926.5"/>
<line x1="724.5" y1="534.5" x2="724.5" y2="537.5"/>
<line x1="535.5" y1="740.5" x2="538.5" y2="740.5"/>
<line x1="930.5" y1="740.5" x2="927.5" y2="740.5"/>
<line x1="732.5" y1="929.5" x2="732.5" y2="924.5"/>
<line x1="732.5" y1="534.5" x2="732.5" y2="539.5"/>
<line x1="535.5" y1="732.5" x2="540.5" y2="732.5"/>
<line x1="930.5" y1="732.5" x2="925.5" y2="732.5"/>
<line x1="777.5" y1="929.5" x2="777.5" y2="926.5"/>
<line x1="777.5" y1="534.5" x2="777.5" y2="537.5"/>
<line x1="535.5" y1="687.5" x2="538.5" y2="687.5"/>
<line x1="930.5" y1="687.5" x2="927.5" y2="687.5"/>
<line x1="798.5" y1="929.5" x2="798.5" y2="926.5"/>
<line x1="798.5" y1="534.5" x2="798.5" y2="537.5"/>
<line x1="535.5" y1="666.5" x2="538.5" y2="666.5"/>
<line x1="930.5" y1="666.5" x2="927.5" y2="666.5"/>
<line x1="812.5" y1="929.5" x2="812.5" y2="926.5"/>
<line x1="812.5" y1="534.5" x2="812.5" y2="537.5"/>
<line x1="535.5" y1="652.5" x2="538.5" y2="652.5"/>
<line x1="930.5" y1="652.5" x2="927.5" y2="652.5"/>
<line x1="823.5" y1="929.5" x2="823.5" y2="926.5"/>
<line x1="823.5" y1="534.5" x2="823.5" y2="537.5"/>
<line x1="535.5" y1="641.5" x2="538.5" y2="641.5"/>
<line x1="930.5" y1="641.5" x2="927.5" y2="641.5"/>
<line x1="831.5" y1="929.5" x2="831.5" y2="924.5"/>
<line x1="831.5" y1="534.5" x2="831.5" y2="539.5"/>
<line x1="535.5" y1="633.5" x2="540.5" y2="633.5"/>
<line x1="930.5" y1="633.5" x2="925.5" y2="633.5"/>
<line x1="875.5" y1="929.5" x2="875.5" y2="926.5"/>
<line x1="875.5" y1="534.5" x2="875.5" y2="537.5"/>
<line x1="535.5" y1="589.5" x2="538.5" y2="589.5"/>
<line x1="930.5" y1="589.5" x2="927.5" y2="589.5"/>
<line x1="897.5" y1="929.5" x2="897.5" y2="926.5"/>
<line x1="897.5" y1="534.5" x2="897.5" y2="537.5"/>
<line x1="535.5" y1="567.5" x2="538.5" y2="567.5"/>
<line x1="930.5" y1="567.5" x2="927.5" y2="567.5"/>
<line x1="911.5" y1="929.5" x2="911.5" y2="926.5"/>
<line x1="911.5" y1="534.5" x2="911.5" y2="537.5"/>
<line x1="535.5" y1="553.5" x2="538.5" y2="553.5"/>
<line x1="930.5" y1="553.5" x2="927.5" y2="553.5"/>
<line x1="921.5" y1="929.5" x2="921.5" y2="926.5"/>
<line x1="921.5" y1="534.5" x2="921.5" y2="537.5"/>
<line x1="535.5" y1="543.5" x2="538.5" y2="543.5"/>
<line x1="930.5" y1="543.5" x2="927.5" y2="543.5"/>
</g>
<line x1="535.5" y1="929.5" x2="930.5" y2="534.5" stroke="#000" stroke-width="1" shape-rendering="crispEdges"/>
<path d="M531.0 925.0L540.0 934.0M531.0 934.0L540.0 925.0M561.0 925.0L570.0 934.0M561.0 934.0L570.0 925.0M578.0 925.0L587.0 934.0M578.0 934.0L587.0 925.0M590.0 925.0L599.0 934.0M590.0 934.0L599.0 925.0M600.0 925.0L609.0 934.0M600.0 934.0L609.0 925.0M614.0 925.0L623.0 934.0M614.0 934.0L623.0 925.0M620.0 925.0L629.0 934.0M620.0 934.0L629.0 925.0M625.0 925.0L634.0 934.0M625.0 934.0L634.0 925.0M531.0 895.0L540.0 904.0M531.0 904.0L540.0 895.0M561.0 895.0L570.0 904.0M561.0 904.0L570.0 895.0M578.0 895.0L587.0 904.0M578.0 904.0L587.0 895.0M608.0 895.0L617.0 904.0M608.0 904.0L617.0 895.0M614.0 895.0L623.0 904.0M614.0 904.0L623.0 895.0M625.0 895.0L634.0 904.0M625.0 904.0L634.0 895.0M578.0 878.0L587.0 887.0M578.0 887.0L587.0 878.0M600.0 878.0L609.0 887.0M600.0 887.0L609.0 878.0M620.0 878.0L629.0 887.0M620.0 887.0L629.0 878.0M625.0 878.0L634.0 887.0M625.0 887.0L634.0 878.0M630.0 878.0L639.0 887.0M630.0 887.0L639.0 878.0M531.0 866.0L540.0 875.0M531.0 875.0L540.0 866.0M600.0 866.0L609.0 875.0M600.0 875.0L609.0 866.0M614.0 866.0L623.0 875.0M614.0 875.0L623.0 866.0M630.0 866.0L639.0 875.0M630.0 875.0L639.0 866.0M634.0 866.0L643.0 875.0M634.0 875.0L643.0 866.0M531.0 856.0L540.0 865.0M531.0 865.0L540.0 856.0M578.0 856.0L587.0 865.0M578.0 865.0L587.0 856.0M590.0 856.0L599.0 865.0M590.0 865.0L599.0 856.0M608.0 856.0L617.0 865.0M608.0 865.0L617.0 856.0M614.0 856.0L623.0 865.0M614.0 865.0L623.0 856.0M638.0 856.0L647.0 865.0M638.0 865.0L647.0 856.0M655.0 856.0L664.0 865.0M655.0 865.0L664.0 856.0M531.0 848.0L540.0 857.0M531.0 857.0L540.0 848.0M561.0 848.0L570.0 857.0M561.0 857.0L570.0 848.0M600.0 848.0L609.0 857.0M600.0 857.0L609.0 848.0M620.0 848.0L629.0 857.0M620.0 857.0L629.0 848.0M641.0 848.0L650.0 857.0M641.0 857.0L650.0 848.0M578.0 842.0L587.0 851.0M578.0 851.0L587.0 842.0M531.0 836.0L540.0 845.0M531.0 845.0L540.0 836.0M600.0 836.0L609.0 845.0M600.0 845.0L609.0 836.0M578.0 815.0L587.0 824.0M578.0 824.0L587.0 815.0M590.0 812.0L599.0 821.0M590.0 821.0L599.0 812.0M578.0 785.0L587.0 794.0M578.0 794.0L587.0 785.0M650.0 735.0L659.0 744.0M650.0 744.0L659.0 735.0M641.0 745.0L650.0 754.0M641.0 754.0L650.0 745.0M625.0 756.0L634.0 765.0M625.0 765.0L634.0 756.0M647.0 760.0L656.0 769.0M647.0 769.0L656.0 760.0M647.0 769.0L656.0 778.0M647.0 778.0L656.0 769.0M647.0 768.0L656.0 777.0M647.0 777.0L656.0 768.0M662.0 769.0L671.0 778.0M662.0 778.0L671.0 769.0M664.0 769.0L673.0 778.0M664.0 778.0L673.0 769.0M667.0 769.0L676.0 778.0M667.0 778.0L676.0 769.0M678.0 764.0L687.0 773.0M678.0 773.0L687.0 764.0M687.0 763.0L696.0 772.0M687.0 772.0L696.0 763.0M674.0 766.0L683.0 775.0M674.0 775.0L683.0 766.0M671.0 767.0L680.0 776.0M671.0 776.0L680.0 767.0M680.0 752.0L689.0 761.0M680.0 761.0L689.0 752.0M686.0 740.0L695.0 749.0M686.0 749.0L695.0 740.0M690.0 732.0L699.0 741.0M690.0 741.0L699.0 732.0M681.0 774.0L690.0 783.0M681.0 783.0L690.0 774.0M665.0 784.0L674.0 793.0M665.0 793.0L674.0 784.0M667.0 787.0L676.0 796.0M667.0 796.0L676.0 787.0M671.0 792.0L680.0 801.0M671.0 801.0L680.0 792.0M671.0 794.0L680.0 803.0M671.0 803.0L680.0 794.0M630.0 785.0L639.0 794.0M630.0 794.0L639.0 785.0M638.0 787.0L647.0 796.0M638.0 796.0L647.0 787.0M634.0 792.0L643.0 801.0M634.0 801.0L643.0 792.0M638.0 801.0L647.0 810.0M638.0 810.0L647.0 801.0M647.0 801.0L656.0 810.0M647.0 810.0L656.0 801.0M630.0 809.0L639.0 818.0M630.0 818.0L639.0 809.0M630.0 818.0L639.0 827.0M630.0 827.0L639.0 818.0M625.0 818.0L634.0 827.0M625.0 827.0L634.0 818.0M644.0 812.0L653.0 821.0M644.0 821.0L653.0 812.0M650.0 809.0L659.0 818.0M650.0 818.0L659.0 809.0M650.0 815.0L659.0 824.0M650.0 824.0L659.0 815.0M644.0 818.0L653.0 827.0M644.0 827.0L653.0 818.0M641.0 822.0L650.0 831.0M641.0 831.0L650.0 822.0M742.0 692.0L751.0 701.0M742.0 701.0L751.0 692.0M729.0 708.0L738.0 717.0M729.0 717.0L738.0 708.0M713.0 713.0L722.0 722.0M713.0 722.0L722.0 713.0M694.0 710.0L703.0 719.0M694.0 719.0L703.0 710.0M724.0 723.0L733.0 732.0M724.0 732.0L733.0 723.0" stroke="#0040ff" stroke-width="1" fill="none" shape-rendering="crispEdges"/>
<path d="M548.8 544.3L560.8 556.3M548.8 556.3L560.8 544.3" stroke="#0040ff" stroke-width="2" fill="none"/>
<path d="M548.8 564.4L560.8 576.4M548.8 576.4L560.8 564.4" stroke="#c00000" stroke-width="2" fill="none"/>
<text x="576" y="551.6" font-size="11.8" text-anchor="start" font-family="DejaVu Sans Light, DejaVu Sans, Liberation Sans, sans-serif" font-weight="200" stroke="#000" stroke-width="0.35" textLength="49" lengthAdjust="spacingAndGlyphs">: Ocean</text>
<text x="576" y="571.6" font-size="11.8" text-anchor="start" font-family="DejaVu Sans Light, DejaVu Sans, Liberation Sans, sans-serif" font-weight="200" stroke="#000" stroke-width="0.35" textLength="40" lengthAdjust="spacingAndGlyphs">: Land</text>
<text x="535.0" y="956.5" font-size="18.5" text-anchor="middle" font-family="DejaVu Sans Light, DejaVu Sans, Liberation Sans, sans-serif" font-weight="200" stroke="#000" stroke-width="0.3" textLength="42" lengthAdjust="spacingAndGlyphs">0.01</text>
<text x="633.75" y="956.5" font-size="18.5" text-anchor="middle" font-family="DejaVu Sans Light, DejaVu Sans, Liberation Sans, sans-serif" font-weight="200" stroke="#000" stroke-width="0.3" textLength="42" lengthAdjust="spacingAndGlyphs">0.10</text>
<text x="732.5" y="956.5" font-size="18.5" text-anchor="middle" font-family="DejaVu Sans Light, DejaVu Sans, Liberation Sans, sans-serif" font-weight="200" stroke="#000" stroke-width="0.3" textLength="42" lengthAdjust="spacingAndGlyphs">1.00</text>
<text x="831.25" y="956.5" font-size="18.5" text-anchor="middle" font-family="DejaVu Sans Light, DejaVu Sans, Liberation Sans, sans-serif" font-weight="200" stroke="#000" stroke-width="0.3" textLength="55.5" lengthAdjust="spacingAndGlyphs">10.00</text>
<text x="930.0" y="956.5" font-size="18.5" text-anchor="middle" font-family="DejaVu Sans Light, DejaVu Sans, Liberation Sans, sans-serif" font-weight="200" stroke="#000" stroke-width="0.3" textLength="69" lengthAdjust="spacingAndGlyphs">100.00</text>
<text x="528.5" y="929.6" font-size="18.5" text-anchor="end" font-family="DejaVu Sans Light, DejaVu Sans, Liberation Sans, sans-serif" font-weight="200" stroke="#000" stroke-width="0.3" textLength="42" lengthAdjust="spacingAndGlyphs">0.01</text>
<text x="528.5" y="837.5" font-size="18.5" text-anchor="end" font-family="DejaVu Sans Light, DejaVu Sans, Liberation Sans, sans-serif" font-weight="200" stroke="#000" stroke-width="0.3" textLength="42" lengthAdjust="spacingAndGlyphs">0.10</text>
<text x="528.5" y="739" font-size="18.5" text-anchor="end" font-family="DejaVu Sans Light, DejaVu Sans, Liberation Sans, sans-serif" font-weight="200" stroke="#000" stroke-width="0.3" textLength="42" lengthAdjust="spacingAndGlyphs">1.00</text>
<text x="528.5" y="640.5" font-size="18.5" text-anchor="end" font-family="DejaVu Sans Light, DejaVu Sans, Liberation Sans, sans-serif" font-weight="200" stroke="#000" stroke-width="0.3" textLength="55.5" lengthAdjust="spacingAndGlyphs">10.00</text>
<text x="528.5" y="547" font-size="18.5" text-anchor="end" font-family="DejaVu Sans Light, DejaVu Sans, Liberation Sans, sans-serif" font-weight="200" stroke="#000" stroke-width="0.3" textLength="69" lengthAdjust="spacingAndGlyphs">100.00</text>
<text x="732.5" y="979.3" font-size="18.5" text-anchor="middle" font-family="DejaVu Sans Light, DejaVu Sans, Liberation Sans, sans-serif" font-weight="200" stroke="#000" stroke-width="0.3" textLength="263" lengthAdjust="spacingAndGlyphs">DPR Precipitation (mm/h)</text>
<text x="442.6" y="731" font-size="18.5" text-anchor="middle" font-family="DejaVu Sans Light, DejaVu Sans, Liberation Sans, sans-serif" font-weight="200" stroke="#000" stroke-width="0.3" transform="rotate(-90 442.6 731)" textLength="296" lengthAdjust="spacingAndGlyphs">AMSR2 Precipitation (mm/h)</text>
<g shape-rendering="crispEdges">
<rect x="72" y="531" width="357" height="187" fill="#000"/>
<rect x="73" y="532" width="355" height="185" fill="#fff"/>
<rect x="75" y="534" width="351" height="181" fill="#000"/>
<rect x="105" y="531" width="31" height="4" fill="#000"/>
<rect x="105" y="714" width="31" height="4" fill="#000"/>
<rect x="165" y="531" width="31" height="4" fill="#000"/>
<rect x="165" y="714" width="31" height="4" fill="#000"/>
<rect x="225" y="531" width="61" height="4" fill="#000"/>
<rect x="225" y="714" width="61" height="4" fill="#000"/>
<rect x="315" y="531" width="31" height="4" fill="#000"/>
<rect x="315" y="714" width="31" height="4" fill="#000"/>
<rect x="375" y="531" width="31" height="4" fill="#000"/>
<rect x="375" y="714" width="31" height="4" fill="#000"/>
<rect x="72" y="531" width="4" height="34" fill="#000"/>
<rect x="425" y="531" width="4" height="34" fill="#000"/>
<rect x="72" y="594" width="4" height="31" fill="#000"/>
<rect x="425" y="594" width="4" height="31" fill="#000"/>
<rect x="72" y="654" width="4" height="31" fill="#000"/>
<rect x="425" y="654" width="4" height="31" fill="#000"/>
<rect x="76" y="535" width="349" height="179" fill="#fff"/>
<clipPath id="wm"><rect x="76" y="535" width="349" height="179"/></clipPath>
<g clip-path="url(#wm)" fill="#a8a8a8" stroke="#a8a8a8" stroke-width="0.8">
<polygon points="66.5,587.5 70.0,588.5 73.5,587.8 75.5,585.8 78.5,582.7 78.5,581.2 82.5,580.8 84.5,580.2 87.5,582.5 91.5,586.5 92.0,584.5 94.0,584.5 89.0,579.0 89.5,579.5 95.0,583.0 96.5,586.5 98.5,588.0 99.5,586.5 98.5,584.0 101.5,583.7 101.5,585.5 103.0,587.8 106.5,588.0 111.5,588.0 111.0,591.5 109.8,593.2 108.0,593.5 108.0,594.5 110.5,596.5 114.5,603.5 118.5,611.5 120.5,611.7 127.5,608.0 133.5,604.5 135.5,602.0 132.0,600.0 131.5,598.0 127.0,600.0 125.5,598.0 123.5,595.0 125.5,594.5 127.5,597.0 132.0,597.5 136.5,599.5 142.0,599.5 143.5,601.0 145.5,603.5 148.0,603.0 148.5,608.5 151.5,615.0 153.0,616.5 155.5,611.5 155.5,609.0 160.5,605.0 162.5,603.0 165.5,602.5 167.5,603.5 170.0,608.5 173.0,608.0 174.0,614.5 176.0,617.5 179.0,623.0 179.5,622.0 178.5,619.0 175.5,615.5 175.5,611.5 177.5,612.5 180.5,615.5 184.5,612.5 184.0,608.5 181.5,605.5 183.5,603.0 185.5,603.5 189.5,602.0 192.5,601.0 195.5,598.5 197.5,594.5 196.5,592.5 195.0,589.5 198.0,587.5 193.5,586.5 193.5,585.5 197.0,584.0 200.5,585.0 202.0,587.5 202.0,590.0 204.5,589.5 205.0,587.5 203.0,585.0 205.5,582.0 208.5,581.5 211.5,579.5 215.5,575.5 216.5,571.5 213.5,570.5 211.0,570.0 213.5,567.5 217.5,565.5 223.5,565.0 230.5,565.5 232.5,563.0 235.5,563.0 238.5,562.5 235.5,564.5 232.0,567.5 231.0,571.5 232.0,573.5 235.5,571.5 237.5,568.5 238.5,566.5 241.5,564.5 245.5,564.5 249.5,563.0 254.5,562.0 255.5,559.5 260.5,559.5 265.5,558.5 260.5,557.5 255.5,555.5 245.5,554.5 235.5,555.0 228.5,553.5 215.5,552.0 205.5,553.5 202.5,551.5 190.5,551.0 188.5,548.5 180.5,547.0 173.5,548.5 163.5,549.0 155.5,551.5 150.5,552.5 148.5,556.5 144.5,556.0 142.5,552.5 135.5,555.0 130.5,556.0 122.5,557.5 119.5,558.5 115.5,560.0 110.5,560.5 108.5,558.0 116.5,557.5 114.5,556.0 106.5,554.5 100.5,553.5 93.5,555.0 89.5,557.5 85.5,560.5 80.5,562.5 80.0,565.5 82.5,567.0 83.5,567.5 83.5,570.0 81.5,571.0 79.5,572.0 78.5,573.2 77.0,573.5 77.0,574.5 74.0,575.0 74.0,575.8 71.0,576.0 74.0,578.0 74.0,581.0 66.5,581.0"/>
<polygon points="69.5,588.7 73.5,589.5 78.5,587.7 85.5,587.3 86.5,591.0 90.5,592.2 95.5,593.7 95.5,591.8 98.5,591.9 100.5,592.9 104.5,593.5 107.8,593.3 108.0,594.5 109.5,597.5 111.0,600.5 112.5,603.5 113.0,606.0 115.0,609.0 118.5,612.5 118.8,613.0 122.5,613.3 126.5,612.5 126.5,614.0 123.5,619.5 119.5,623.5 117.0,626.5 114.5,629.5 115.0,634.5 116.0,639.5 110.5,644.5 111.0,648.5 108.5,650.0 108.0,653.0 105.5,655.5 102.5,658.0 97.5,658.5 94.0,658.8 93.5,656.5 90.5,651.5 90.0,646.5 87.5,642.5 87.5,639.5 89.0,636.5 87.5,630.5 84.5,625.5 85.0,621.0 82.5,620.2 80.0,618.2 76.5,618.5 73.5,619.5 71.5,619.3 68.0,620.0 65.5,618.0 62.5,616.0 60.5,613.5 58.5,609.8 59.5,605.5 58.5,603.5 59.5,601.0 62.5,596.8 65.5,595.0 66.0,592.0"/>
<polygon points="429.5,588.7 433.5,589.5 438.5,587.7 445.5,587.3 446.5,591.0 450.5,592.2 455.5,593.7 455.5,591.8 458.5,591.9 460.5,592.9 464.5,593.5 467.8,593.3 468.0,594.5 469.5,597.5 471.0,600.5 472.5,603.5 473.0,606.0 475.0,609.0 478.5,612.5 478.8,613.0 482.5,613.3 486.5,612.5 486.5,614.0 483.5,619.5 479.5,623.5 477.0,626.5 474.5,629.5 475.0,634.5 476.0,639.5 470.5,644.5 471.0,648.5 468.5,650.0 468.0,653.0 465.5,655.5 462.5,658.0 457.5,658.5 454.0,658.8 453.5,656.5 450.5,651.5 450.0,646.5 447.5,642.5 447.5,639.5 449.0,636.5 447.5,630.5 444.5,625.5 445.0,621.0 442.5,620.2 440.0,618.2 436.5,618.5 433.5,619.5 431.5,619.3 428.0,620.0 425.5,618.0 422.5,616.0 420.5,613.5 418.5,609.8 419.5,605.5 418.5,603.5 419.5,601.0 422.5,596.8 425.5,595.0 426.0,592.0"/>
<polygon points="124.5,636.5 126.0,640.0 122.5,649.5 119.5,649.5 119.0,646.5 119.5,641.5 122.5,639.5"/>
<polygon points="189.0,646.5 189.5,650.5 190.5,655.5 190.5,658.5 193.5,659.5 198.5,658.5 204.5,656.0 206.5,656.0 209.5,657.5 211.5,659.5 213.0,657.5 213.5,660.0 215.5,662.5 219.0,663.3 222.0,663.5 225.5,662.0 227.0,658.0 228.5,653.5 228.5,649.5 225.0,646.5 221.5,643.5 220.5,639.5 219.0,639.0 218.0,635.3 217.0,637.5 216.5,642.0 214.5,642.0 211.0,639.5 212.0,636.5 208.5,636.0 205.5,637.0 204.5,639.5 201.5,638.5 197.5,642.0 196.5,644.0 191.5,645.3"/>
<polygon points="220.0,665.0 223.5,665.3 223.5,667.5 221.5,668.0 220.5,666.5"/>
<polygon points="248.2,659.0 250.5,661.0 254.0,662.2 252.5,664.0 250.8,666.0 250.2,664.0 249.0,662.5 249.5,661.0"/>
<polygon points="248.2,665.0 249.7,666.3 246.5,669.0 244.0,671.1 242.0,670.5 243.5,668.5 246.5,666.5"/>
<polygon points="206.5,625.3 209.5,625.2 210.5,627.8 213.5,626.1 216.5,627.1 220.5,628.5 223.0,630.5 222.0,631.5 226.0,635.0 222.5,634.5 219.5,632.2 216.5,633.5 213.5,632.8 213.5,630.5 208.5,628.5 207.5,627.2"/>
<polygon points="184.5,623.0 186.5,622.8 188.5,621.5 192.5,617.5 194.5,619.5 193.2,621.5 193.5,623.5 192.0,628.0 189.5,628.0 186.5,627.5 185.5,626.0"/>
<polygon points="170.8,619.0 173.5,620.5 176.5,622.5 179.5,625.5 181.5,627.5 181.3,630.3 179.5,630.0 176.5,627.5 174.0,624.0"/>
<polygon points="181.0,630.5 183.5,630.8 186.5,630.8 190.0,632.0 190.0,633.0 185.5,632.5 181.5,631.8"/>
<polygon points="195.0,624.0 196.5,623.3 200.5,623.0 198.5,624.2 196.0,624.5 196.5,625.5 198.5,625.5 197.0,626.5 198.0,629.0 196.5,628.5 196.0,630.0 195.0,630.0 195.0,628.0 194.5,625.5"/>
<polygon points="196.0,606.0 197.8,606.2 197.5,608.5 199.5,611.0 199.5,612.0 197.5,611.0 196.0,610.5 195.5,608.5"/>
<polygon points="197.5,617.5 199.0,616.0 202.0,615.0 201.8,618.0 200.8,618.8 199.5,618.0"/>
<polygon points="198.5,612.5 200.5,613.0 201.0,614.5 198.5,615.0 197.5,614.0"/>
<polygon points="205.5,591.5 206.5,593.5 207.5,591.0 210.5,591.0 212.5,589.8 215.5,589.5 216.5,588.5 217.5,585.0 217.0,583.0 215.5,583.5 215.0,586.0 212.5,587.5 211.5,588.5 208.5,589.0 206.5,590.2"/>
<polygon points="215.5,582.5 217.0,581.5 217.2,579.0 221.0,581.0 218.5,582.5 216.5,582.0"/>
<polygon points="217.5,578.5 219.0,578.0 218.5,575.5 220.0,575.5 218.5,571.5 218.2,570.2 217.3,572.5 217.5,576.5"/>
<polygon points="155.5,615.0 157.3,617.0 156.0,618.5 155.2,616.5"/>
<polygon points="196.5,599.5 197.5,600.0 196.3,602.5 195.5,601.0"/>
<polygon points="184.5,604.5 186.5,605.0 185.5,606.3 184.2,605.5"/>
<polygon points="85.5,545.0 103.5,545.0 99.5,547.0 95.5,548.0 91.5,548.5"/>
<polygon points="126.5,553.5 131.5,554.0 133.5,552.5 131.5,550.5 137.5,548.5 144.5,547.7 143.5,548.5 135.5,550.0 130.5,552.0"/>
<polygon points="119.5,544.5 127.5,543.0 140.5,543.5 137.5,544.5 125.5,544.8"/>
<polygon points="166.5,544.5 175.5,543.5 180.5,545.5 175.5,546.5"/>
<polygon points="211.5,549.0 225.5,549.2 223.5,550.0 218.5,551.3 215.5,550.0"/>
<polygon points="253.5,553.0 259.0,553.2 257.5,553.8 254.5,553.7"/>
<polygon points="70.0,574.5 77.0,573.3 77.0,571.7 75.5,571.0 73.5,568.5 73.5,566.8 71.5,566.0 69.5,566.5 70.5,569.5 72.5,570.5 71.0,571.2 70.5,572.7 72.5,573.2"/>
<polygon points="425.5,572.5 429.0,572.3 429.5,570.0 427.5,569.2 425.5,570.5"/>
<polygon points="411.5,559.0 413.5,558.2 420.5,558.3 422.0,559.5 417.5,561.1 413.0,560.7"/>
<polygon points="267.5,559.0 269.5,556.0 273.5,554.5 278.5,553.2 283.5,553.7 294.5,554.7 300.5,555.5 307.5,554.2 315.5,555.0 320.5,556.5 327.5,556.5 335.5,556.5 339.5,556.0 341.5,552.5 345.5,555.5 350.5,554.5 353.5,555.0 354.5,557.0 349.5,558.0 348.5,560.0 342.5,561.5 341.0,565.5 343.0,567.5 348.5,568.5 353.0,569.5 353.5,572.0 356.0,573.0 357.0,569.5 358.5,567.0 357.0,565.5 358.0,562.0 362.5,562.5 365.5,563.5 366.0,565.7 369.5,565.8 371.0,564.2 374.0,567.5 377.5,570.0 380.0,572.0 375.5,574.2 369.5,574.3 366.5,576.0 370.5,575.3 371.0,578.0 374.5,579.0 370.5,581.0 368.5,579.5 365.5,580.8 365.0,582.5 361.5,584.0 360.0,586.5 359.5,589.5 356.5,591.0 354.2,593.5 355.5,597.5 355.0,599.3 353.5,598.0 352.7,595.5 351.5,594.5 347.5,594.2 345.5,595.5 341.5,595.0 338.2,597.0 337.8,602.0 339.5,605.5 341.5,606.3 344.5,605.8 345.0,603.5 348.5,603.0 347.5,606.5 347.0,608.5 351.5,608.7 352.2,613.5 354.5,615.7 356.0,615.0 358.2,616.0 358.0,617.5 355.5,617.2 352.5,616.2 350.0,614.5 348.0,611.5 344.0,610.5 341.0,608.3 338.5,608.7 333.5,606.5 330.0,604.5 330.0,602.0 326.5,599.0 323.0,595.5 320.8,593.0 321.0,594.5 323.5,597.5 325.5,600.5 326.0,601.5 323.5,600.0 321.0,596.8 319.0,593.5 318.3,591.8 315.0,590.0 313.5,588.0 311.5,584.5 311.5,581.5 311.5,578.3 312.5,576.2 310.5,574.5 307.5,573.0 305.0,570.0 302.0,567.0 298.5,565.8 295.5,564.7 289.5,563.8 284.0,565.0 281.5,566.5 277.5,568.0 272.5,569.7 274.5,568.5 278.0,565.7 273.5,565.8 270.0,563.5 271.5,561.5 274.5,560.0 269.0,560.0"/>
<polygon points="358.2,616.0 360.0,613.8 363.5,612.3 364.5,613.0 367.5,614.0 373.5,613.8 375.5,616.0 378.5,618.5 383.5,620.0 385.5,624.5 391.5,627.0 395.5,627.5 400.0,629.7 400.5,632.5 396.5,637.5 396.5,642.5 394.5,646.5 391.0,647.7 387.0,650.5 386.8,653.0 383.5,657.5 381.5,659.2 378.5,659.0 378.5,661.5 373.5,663.5 370.5,665.5 372.0,667.2 370.0,669.5 368.0,670.5 369.7,672.0 366.5,675.5 367.0,677.5 370.0,679.3 366.5,679.8 362.5,678.0 360.0,674.5 361.5,669.5 362.0,664.5 362.5,661.5 364.0,656.5 365.2,649.5 365.2,642.8 360.5,639.5 358.5,636.5 356.0,632.0 354.2,629.0 355.5,627.0 355.0,624.5 356.5,623.0 358.0,620.5 358.0,617.5"/>
<polygon points="362.5,546.0 369.5,543.7 375.5,542.5 390.5,541.7 405.5,541.0 415.5,542.7 423.5,543.0 417.5,545.5 416.5,548.5 413.5,551.5 413.5,554.0 409.5,556.0 402.5,557.0 396.5,559.0 392.5,564.5 387.5,563.5 383.5,559.5 381.5,555.5 384.5,554.0 379.5,551.5 375.5,548.5 367.5,548.2"/>
<polygon points="355.5,551.0 364.5,553.5 368.5,556.0 373.5,558.0 370.5,562.0 364.5,561.5 357.5,560.0 362.5,557.5 355.5,554.5 347.5,554.0 346.5,551.5"/>
<polygon points="345.5,548.0 355.5,548.2 360.5,545.5 373.5,542.0 360.5,541.3 345.5,543.0"/>
<polygon points="318.5,555.5 330.5,556.0 334.5,553.5 329.5,551.2 318.5,551.5 316.5,553.0"/>
<polygon points="310.5,552.5 319.5,551.0 316.5,549.5 311.5,550.3"/>
<polygon points="340.5,549.5 355.5,549.5 353.5,548.0 340.5,547.7"/>
<polygon points="318.5,549.0 330.5,549.5 335.5,548.5 330.5,547.5 319.5,548.0"/>
<polygon points="335.5,552.5 343.5,552.5 345.5,550.5 338.5,550.5"/>
<polygon points="350.5,602.5 355.5,601.5 360.5,603.8 361.3,604.3 358.0,604.6 357.5,603.0 353.5,602.2 351.5,602.7"/>
<polygon points="361.0,604.7 365.5,604.7 367.0,606.0 364.5,606.7 361.2,606.2"/>
<polygon points="279.0,604.0 280.5,605.0 279.8,605.5 277.5,603.0"/>
<polygon points="374.5,675.8 377.5,676.0 376.5,676.8"/>
<polygon points="397.5,678.5 399.5,678.8 399.0,679.5"/>
<polygon points="144.0,673.2 146.0,673.5 145.0,674.3"/>
<polygon points="239.5,644.5 242.5,646.8 241.5,646.8 239.5,645.2"/>
<polygon points="252.8,641.8 254.2,642.0 254.0,642.8 252.8,642.7"/>
<polygon points="230.5,630.5 232.5,631.5 236.5,634.0 237.5,635.2 235.5,634.5 232.0,632.5"/>
<polygon points="224.0,630.0 227.5,628.7 227.8,629.5 225.5,630.8"/>
<polygon points="242.0,639.5 242.8,640.0 244.0,642.2 243.0,641.0"/>
<polygon points="199.0,634.8 202.5,632.8 202.5,633.3 199.5,635.0"/>
<polygon points="191.5,632.8 194.5,632.7 198.5,632.7 198.5,633.3 194.5,633.5 191.5,633.5"/>
<polygon points="203.0,622.5 204.0,623.0 204.0,625.0 203.0,624.5"/>
<polygon points="201.5,627.5 206.0,627.5 206.0,628.2 202.5,628.2"/>
<polygon points="107.5,593.5 111.5,597.5 118.5,612.5 127.5,612.0 127.5,607.5 119.5,610.5 115.5,602.5 110.5,595.5"/>
<polygon points="122.5,594.0 126.5,600.5 132.5,600.5 132.5,597.0 126.5,594.0"/>
<polygon points="217.0,583.0 218.0,584.5 221.5,581.0 220.5,580.0 218.0,579.0 219.0,577.5 220.0,574.5 219.0,570.0 216.5,571.0 217.3,574.5 217.0,578.5 215.5,581.5 215.5,583.5"/>
<polygon points="310.5,555.0 309.5,552.5 311.5,549.5 317.5,547.5 325.5,546.0 335.5,544.0 343.5,542.7 360.5,541.2 372.5,542.0 363.5,545.5 357.5,548.0 355.5,550.5 357.5,552.5 351.5,555.5 340.5,556.5 325.5,557.0"/>
<polygon points="272.5,569.5 269.5,570.5 266.5,571.3 263.5,571.9 259.5,572.5 259.5,573.0 264.5,572.3 268.5,571.2 272.5,570.2"/>
<polygon points="248.0,571.5 249.5,571.8 252.5,572.5 252.5,572.9 248.5,572.1"/>
<polygon points="340.5,563.2 340.5,559.5 359.5,559.5 359.5,563.2"/>
<polygon points="376.2,576.8 379.0,573.0 380.5,574.5 382.8,577.2 380.0,577.8"/>
<polygon points="75.5,715 75.5,694.5 85.5,694.5 95.5,694.5 105.5,694.0 113.5,693.5 120.5,692.0 125.5,691.5 133.5,691.5 140.5,692.3 145.5,693.0 150.5,693.5 155.5,692.0 163.5,691.0 170.5,690.5 185.5,690.5 200.5,690.8 210.5,690.8 218.5,691.5 225.5,693.0 233.5,694.5 240.5,695.5 245.5,696.5 246.5,698.0 239.5,702.0 245.5,702.5 260.5,703.0 275.5,703.0 280.5,701.5 290.5,700.0 300.5,699.0 310.5,698.0 320.5,698.0 331.5,697.0 333.5,696.0 340.5,696.5 343.5,697.8 355.5,697.5 360.5,696.5 363.5,693.5 367.5,691.5 371.5,689.0 377.5,687.8 380.5,689.0 375.5,691.0 373.5,694.5 372.5,698.0 375.5,701.0 385.5,702.5 395.5,703.0 403.5,702.0 410.5,699.5 418.5,697.3 425.5,695.5 435.5,694.5 435.5,715"/>
<g stroke="#fff" stroke-width="1" fill="none">
<polyline points="112.0,602.0 114.0,605.5 116.5,610.0"/>
<polyline points="119.0,613.3 122.5,612.7 126.5,612.2 130.0,612.0"/>
<polyline points="124.5,597.0 126.5,598.5 129.0,600.0"/>
<polyline points="132.5,600.0 134.0,601.0"/>
<polyline points="94.0,563.0 95.0,565.0 96.0,567.0"/>
<polyline points="92.0,569.0 95.0,569.0"/>
<polyline points="323.0,551.0 327.0,551.3"/>
<polyline points="331.5,551.0 334.0,552.5"/>
<polyline points="342.5,551.0 343.5,553.5"/>
</g>
</g>
<line x1="105.5" y1="538" x2="105.5" y2="714" stroke="#000" stroke-width="1" stroke-dasharray="1 3"/>
<line x1="135.5" y1="538" x2="135.5" y2="714" stroke="#000" stroke-width="1" stroke-dasharray="1 3"/>
<line x1="165.5" y1="538" x2="165.5" y2="714" stroke="#000" stroke-width="1" stroke-dasharray="1 3"/>
<line x1="195.5" y1="538" x2="195.5" y2="714" stroke="#000" stroke-width="1" stroke-dasharray="1 3"/>
<line x1="225.5" y1="538" x2="225.5" y2="714" stroke="#000" stroke-width="1" stroke-dasharray="1 3"/>
<line x1="255.5" y1="538" x2="255.5" y2="714" stroke="#000" stroke-width="1" stroke-dasharray="1 3"/>
<line x1="285.5" y1="538" x2="285.5" y2="714" stroke="#000" stroke-width="1" stroke-dasharray="1 3"/>
<line x1="315.5" y1="538" x2="315.5" y2="714" stroke="#000" stroke-width="1" stroke-dasharray="1 3"/>
<line x1="345.5" y1="538" x2="345.5" y2="714" stroke="#000" stroke-width="1" stroke-dasharray="1 3"/>
<line x1="375.5" y1="538" x2="375.5" y2="714" stroke="#000" stroke-width="1" stroke-dasharray="1 3"/>
<line x1="405.5" y1="538" x2="405.5" y2="714" stroke="#000" stroke-width="1" stroke-dasharray="1 3"/>
<line x1="79" y1="564.5" x2="425" y2="564.5" stroke="#000" stroke-width="1" stroke-dasharray="1 3"/>
<line x1="79" y1="594.5" x2="425" y2="594.5" stroke="#000" stroke-width="1" stroke-dasharray="1 3"/>
<line x1="79" y1="624.5" x2="425" y2="624.5" stroke="#000" stroke-width="1" stroke-dasharray="1 3"/>
<line x1="79" y1="654.5" x2="425" y2="654.5" stroke="#000" stroke-width="1" stroke-dasharray="1 3"/>
<line x1="79" y1="684.5" x2="425" y2="684.5" stroke="#000" stroke-width="1" stroke-dasharray="1 3"/>
</g>
<polygon points="273.5,623.5 286.5,648 260.5,648" fill="#c00000" shape-rendering="crispEdges"/>
<text x="105.5" y="529.8" font-size="12.3" text-anchor="middle" font-family="DejaVu Sans Light, DejaVu Sans, Liberation Sans, sans-serif" font-weight="200" stroke="#000" stroke-width="0.35" letter-spacing="-0.3">30</text>
<text x="105.5" y="727.3" font-size="12.3" text-anchor="middle" font-family="DejaVu Sans Light, DejaVu Sans, Liberation Sans, sans-serif" font-weight="200" stroke="#000" stroke-width="0.35" letter-spacing="-0.3">30</text>
<text x="135.5" y="529.8" font-size="12.3" text-anchor="middle" font-family="DejaVu Sans Light, DejaVu Sans, Liberation Sans, sans-serif" font-weight="200" stroke="#000" stroke-width="0.35" letter-spacing="-0.3">60</text>
<text x="135.5" y="727.3" font-size="12.3" text-anchor="middle" font-family="DejaVu Sans Light, DejaVu Sans, Liberation Sans, sans-serif" font-weight="200" stroke="#000" stroke-width="0.35" letter-spacing="-0.3">60</text>
<text x="165.5" y="529.8" font-size="12.3" text-anchor="middle" font-family="DejaVu Sans Light, DejaVu Sans, Liberation Sans, sans-serif" font-weight="200" stroke="#000" stroke-width="0.35" letter-spacing="-0.3">90</text>
<text x="165.5" y="727.3" font-size="12.3" text-anchor="middle" font-family="DejaVu Sans Light, DejaVu Sans, Liberation Sans, sans-serif" font-weight="200" stroke="#000" stroke-width="0.35" letter-spacing="-0.3">90</text>
<text x="195.5" y="529.8" font-size="12.3" text-anchor="middle" font-family="DejaVu Sans Light, DejaVu Sans, Liberation Sans, sans-serif" font-weight="200" stroke="#000" stroke-width="0.35" letter-spacing="-0.3">120</text>
<text x="195.5" y="727.3" font-size="12.3" text-anchor="middle" font-family="DejaVu Sans Light, DejaVu Sans, Liberation Sans, sans-serif" font-weight="200" stroke="#000" stroke-width="0.35" letter-spacing="-0.3">120</text>
<text x="225.5" y="529.8" font-size="12.3" text-anchor="middle" font-family="DejaVu Sans Light, DejaVu Sans, Liberation Sans, sans-serif" font-weight="200" stroke="#000" stroke-width="0.35" letter-spacing="-0.3">150</text>
<text x="225.5" y="727.3" font-size="12.3" text-anchor="middle" font-family="DejaVu Sans Light, DejaVu Sans, Liberation Sans, sans-serif" font-weight="200" stroke="#000" stroke-width="0.35" letter-spacing="-0.3">150</text>
<text x="255.5" y="529.8" font-size="12.3" text-anchor="middle" font-family="DejaVu Sans Light, DejaVu Sans, Liberation Sans, sans-serif" font-weight="200" stroke="#000" stroke-width="0.35" letter-spacing="-0.3">180</text>
<text x="255.5" y="727.3" font-size="12.3" text-anchor="middle" font-family="DejaVu Sans Light, DejaVu Sans, Liberation Sans, sans-serif" font-weight="200" stroke="#000" stroke-width="0.35" letter-spacing="-0.3">180</text>
<text x="285.5" y="529.8" font-size="12.3" text-anchor="middle" font-family="DejaVu Sans Light, DejaVu Sans, Liberation Sans, sans-serif" font-weight="200" stroke="#000" stroke-width="0.35" letter-spacing="-0.3"><tspan textLength="12" lengthAdjust="spacingAndGlyphs">-</tspan>150</text>
<text x="285.5" y="727.3" font-size="12.3" text-anchor="middle" font-family="DejaVu Sans Light, DejaVu Sans, Liberation Sans, sans-serif" font-weight="200" stroke="#000" stroke-width="0.35" letter-spacing="-0.3"><tspan textLength="12" lengthAdjust="spacingAndGlyphs">-</tspan>150</text>
<text x="315.5" y="529.8" font-size="12.3" text-anchor="middle" font-family="DejaVu Sans Light, DejaVu Sans, Liberation Sans, sans-serif" font-weight="200" stroke="#000" stroke-width="0.35" letter-spacing="-0.3"><tspan textLength="12" lengthAdjust="spacingAndGlyphs">-</tspan>120</text>
<text x="315.5" y="727.3" font-size="12.3" text-anchor="middle" font-family="DejaVu Sans Light, DejaVu Sans, Liberation Sans, sans-serif" font-weight="200" stroke="#000" stroke-width="0.35" letter-spacing="-0.3"><tspan textLength="12" lengthAdjust="spacingAndGlyphs">-</tspan>120</text>
<text x="345.5" y="529.8" font-size="12.3" text-anchor="middle" font-family="DejaVu Sans Light, DejaVu Sans, Liberation Sans, sans-serif" font-weight="200" stroke="#000" stroke-width="0.35" letter-spacing="-0.3"><tspan textLength="12" lengthAdjust="spacingAndGlyphs">-</tspan>90</text>
<text x="345.5" y="727.3" font-size="12.3" text-anchor="middle" font-family="DejaVu Sans Light, DejaVu Sans, Liberation Sans, sans-serif" font-weight="200" stroke="#000" stroke-width="0.35" letter-spacing="-0.3"><tspan textLength="12" lengthAdjust="spacingAndGlyphs">-</tspan>90</text>
<text x="375.5" y="529.8" font-size="12.3" text-anchor="middle" font-family="DejaVu Sans Light, DejaVu Sans, Liberation Sans, sans-serif" font-weight="200" stroke="#000" stroke-width="0.35" letter-spacing="-0.3"><tspan textLength="12" lengthAdjust="spacingAndGlyphs">-</tspan>60</text>
<text x="375.5" y="727.3" font-size="12.3" text-anchor="middle" font-family="DejaVu Sans Light, DejaVu Sans, Liberation Sans, sans-serif" font-weight="200" stroke="#000" stroke-width="0.35" letter-spacing="-0.3"><tspan textLength="12" lengthAdjust="spacingAndGlyphs">-</tspan>60</text>
<text x="405.5" y="529.8" font-size="12.3" text-anchor="middle" font-family="DejaVu Sans Light, DejaVu Sans, Liberation Sans, sans-serif" font-weight="200" stroke="#000" stroke-width="0.35" letter-spacing="-0.3"><tspan textLength="12" lengthAdjust="spacingAndGlyphs">-</tspan>30</text>
<text x="405.5" y="727.3" font-size="12.3" text-anchor="middle" font-family="DejaVu Sans Light, DejaVu Sans, Liberation Sans, sans-serif" font-weight="200" stroke="#000" stroke-width="0.35" letter-spacing="-0.3"><tspan textLength="12" lengthAdjust="spacingAndGlyphs">-</tspan>30</text>
<text x="70.3" y="564.5" font-size="12.3" text-anchor="middle" font-family="DejaVu Sans Light, DejaVu Sans, Liberation Sans, sans-serif" font-weight="200" stroke="#000" stroke-width="0.35" transform="rotate(-90 70.3 564.5)" letter-spacing="-0.3">60</text>
<text x="430.2" y="564.5" font-size="12.3" text-anchor="middle" font-family="DejaVu Sans Light, DejaVu Sans, Liberation Sans, sans-serif" font-weight="200" stroke="#000" stroke-width="0.35" transform="rotate(90 430.2 564.5)" letter-spacing="-0.3">60</text>
<text x="70.3" y="594.5" font-size="12.3" text-anchor="middle" font-family="DejaVu Sans Light, DejaVu Sans, Liberation Sans, sans-serif" font-weight="200" stroke="#000" stroke-width="0.35" transform="rotate(-90 70.3 594.5)" letter-spacing="-0.3">30</text>
<text x="430.2" y="594.5" font-size="12.3" text-anchor="middle" font-family="DejaVu Sans Light, DejaVu Sans, Liberation Sans, sans-serif" font-weight="200" stroke="#000" stroke-width="0.35" transform="rotate(90 430.2 594.5)" letter-spacing="-0.3">30</text>
<text x="70.3" y="624.5" font-size="12.3" text-anchor="middle" font-family="DejaVu Sans Light, DejaVu Sans, Liberation Sans, sans-serif" font-weight="200" stroke="#000" stroke-width="0.35" transform="rotate(-90 70.3 624.5)" letter-spacing="-0.3">0</text>
<text x="430.2" y="624.5" font-size="12.3" text-anchor="middle" font-family="DejaVu Sans Light, DejaVu Sans, Liberation Sans, sans-serif" font-weight="200" stroke="#000" stroke-width="0.35" transform="rotate(90 430.2 624.5)" letter-spacing="-0.3">0</text>
<text x="70.3" y="654.5" font-size="12.3" text-anchor="middle" font-family="DejaVu Sans Light, DejaVu Sans, Liberation Sans, sans-serif" font-weight="200" stroke="#000" stroke-width="0.35" transform="rotate(-90 70.3 654.5)" letter-spacing="-0.3"><tspan textLength="12" lengthAdjust="spacingAndGlyphs">-</tspan>30</text>
<text x="430.2" y="654.5" font-size="12.3" text-anchor="middle" font-family="DejaVu Sans Light, DejaVu Sans, Liberation Sans, sans-serif" font-weight="200" stroke="#000" stroke-width="0.35" transform="rotate(90 430.2 654.5)" letter-spacing="-0.3"><tspan textLength="12" lengthAdjust="spacingAndGlyphs">-</tspan>30</text>
<text x="70.3" y="684.5" font-size="12.3" text-anchor="middle" font-family="DejaVu Sans Light, DejaVu Sans, Liberation Sans, sans-serif" font-weight="200" stroke="#000" stroke-width="0.35" transform="rotate(-90 70.3 684.5)" letter-spacing="-0.3"><tspan textLength="12" lengthAdjust="spacingAndGlyphs">-</tspan>60</text>
<text x="430.2" y="684.5" font-size="12.3" text-anchor="middle" font-family="DejaVu Sans Light, DejaVu Sans, Liberation Sans, sans-serif" font-weight="200" stroke="#000" stroke-width="0.35" transform="rotate(90 430.2 684.5)" letter-spacing="-0.3"><tspan textLength="12" lengthAdjust="spacingAndGlyphs">-</tspan>60</text>
<text transform="translate(70.5 763.7) scale(1 0.91)" font-size="16" text-anchor="start" font-family="Liberation Sans, sans-serif" font-weight="bold" stroke="#000" stroke-width="0.25" textLength="126.7" lengthAdjust="spacingAndGlyphs">2026/02/16 00:31</text>
<text transform="translate(70.5 793.5) scale(1 0.91)" font-size="16" text-anchor="start" font-family="Liberation Sans, sans-serif" font-weight="bold" stroke="#000" stroke-width="0.25" textLength="247" lengthAdjust="spacingAndGlyphs">Scene center LAT:-11   LON:-162</text>
<text transform="translate(70.5 823.5) scale(1 0.91)" font-size="16" text-anchor="start" font-family="Liberation Sans, sans-serif" font-weight="bold" stroke="#000" stroke-width="0.25" textLength="133" lengthAdjust="spacingAndGlyphs">DeltaT:  517 (sec)</text>
<g shape-rendering="crispEdges" stroke="#000" stroke-width="1" fill="none">
<rect x="70.5" y="849.5" width="360" height="120"/>
<line x1="142.5" y1="849" x2="142.5" y2="970"/>
<line x1="214.5" y1="849" x2="214.5" y2="970"/>
<line x1="286.5" y1="849" x2="286.5" y2="970"/>
<line x1="358.5" y1="849" x2="358.5" y2="970"/>
<line x1="70" y1="889.5" x2="431" y2="889.5"/>
<line x1="70" y1="929.5" x2="431" y2="929.5"/>
</g>
<text transform="translate(178.5 879.5) scale(1 0.94)" font-size="16" text-anchor="middle" font-family="Liberation Sans, sans-serif" font-weight="bold" stroke="#000" stroke-width="0.25">Bias</text>
<text transform="translate(250.5 879.5) scale(1 0.94)" font-size="16" text-anchor="middle" font-family="Liberation Sans, sans-serif" font-weight="bold" stroke="#000" stroke-width="0.25">Cor</text>
<text transform="translate(322.5 879.5) scale(1 0.94)" font-size="16" text-anchor="middle" font-family="Liberation Sans, sans-serif" font-weight="bold" stroke="#000" stroke-width="0.25">RMSE</text>
<text transform="translate(394.5 879.5) scale(1 0.94)" font-size="16" text-anchor="middle" font-family="Liberation Sans, sans-serif" font-weight="bold" stroke="#000" stroke-width="0.25">N</text>
<text transform="translate(106.5 919.5) scale(1 0.94)" font-size="16" text-anchor="middle" font-family="Liberation Sans, sans-serif" font-weight="bold" stroke="#000" stroke-width="0.25">Ocean</text>
<text transform="translate(178.5 919.5) scale(1 0.94)" font-size="16" text-anchor="middle" font-family="Liberation Sans, sans-serif" font-weight="bold" stroke="#000" stroke-width="0.25">0.06</text>
<text transform="translate(250.5 919.5) scale(1 0.94)" font-size="16" text-anchor="middle" font-family="Liberation Sans, sans-serif" font-weight="bold" stroke="#000" stroke-width="0.25">0.91</text>
<text transform="translate(322.5 919.5) scale(1 0.94)" font-size="16" text-anchor="middle" font-family="Liberation Sans, sans-serif" font-weight="bold" stroke="#000" stroke-width="0.25">0.18</text>
<text transform="translate(394.5 919.5) scale(1 0.94)" font-size="16" text-anchor="middle" font-family="Liberation Sans, sans-serif" font-weight="bold" stroke="#000" stroke-width="0.25">152</text>
<text transform="translate(106.5 959.5) scale(1 0.94)" font-size="16" text-anchor="middle" font-family="Liberation Sans, sans-serif" font-weight="bold" stroke="#000" stroke-width="0.25">Land</text>
<text transform="translate(178.5 958.0) scale(1 0.94)" font-size="16" text-anchor="middle" font-family="Liberation Sans, sans-serif" font-weight="bold" stroke="#000" stroke-width="0.25" textLength="22.7" lengthAdjust="spacingAndGlyphs">***</text>
<text transform="translate(250.5 958.0) scale(1 0.94)" font-size="16" text-anchor="middle" font-family="Liberation Sans, sans-serif" font-weight="bold" stroke="#000" stroke-width="0.25" textLength="22.7" lengthAdjust="spacingAndGlyphs">***</text>
<text transform="translate(322.5 958.0) scale(1 0.94)" font-size="16" text-anchor="middle" font-family="Liberation Sans, sans-serif" font-weight="bold" stroke="#000" stroke-width="0.25" textLength="22.7" lengthAdjust="spacingAndGlyphs">***</text>
<text transform="translate(394.5 959.5) scale(1 0.94)" font-size="16" text-anchor="middle" font-family="Liberation Sans, sans-serif" font-weight="bold" stroke="#000" stroke-width="0.25">0</text>
</svg></body></html>
